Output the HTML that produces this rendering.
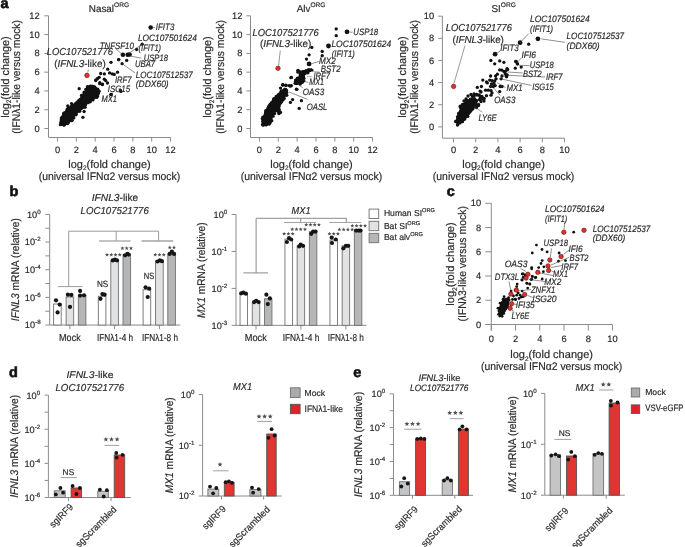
<!DOCTYPE html>
<html><head><meta charset="utf-8"><style>
html,body{margin:0;padding:0;background:#fff;}
svg{display:block;will-change:transform;}
svg text{font-family:"Liberation Sans",sans-serif;text-rendering:geometricPrecision;}
</style></head><body>
<svg width="685" height="547" viewBox="0 0 685 547">
<rect width="685" height="547" fill="#fff"/>
<text x="0.6" y="7.8" font-size="14.5" stroke="#111" stroke-width="0.6" font-weight="bold" fill="#111">a</text>
<polyline points="48.5,15.8 48.5,137.5 170.5,137.5" fill="none" stroke="#8c8c8c" stroke-width="1"/>
<line x1="44.3" y1="128.5" x2="48.5" y2="128.5" stroke="#8c8c8c" stroke-width="1"/>
<text x="39.6" y="131.6" font-size="9.3" stroke="#2a2a2a" stroke-width="0.18" text-anchor="end" fill="#2a2a2a">0</text>
<line x1="44.3" y1="109.72" x2="48.5" y2="109.72" stroke="#8c8c8c" stroke-width="1"/>
<text x="39.6" y="112.82" font-size="9.3" stroke="#2a2a2a" stroke-width="0.18" text-anchor="end" fill="#2a2a2a">2</text>
<line x1="44.3" y1="90.94" x2="48.5" y2="90.94" stroke="#8c8c8c" stroke-width="1"/>
<text x="39.6" y="94.04" font-size="9.3" stroke="#2a2a2a" stroke-width="0.18" text-anchor="end" fill="#2a2a2a">4</text>
<line x1="44.3" y1="72.16" x2="48.5" y2="72.16" stroke="#8c8c8c" stroke-width="1"/>
<text x="39.6" y="75.26" font-size="9.3" stroke="#2a2a2a" stroke-width="0.18" text-anchor="end" fill="#2a2a2a">6</text>
<line x1="44.3" y1="53.38" x2="48.5" y2="53.38" stroke="#8c8c8c" stroke-width="1"/>
<text x="39.6" y="56.48" font-size="9.3" stroke="#2a2a2a" stroke-width="0.18" text-anchor="end" fill="#2a2a2a">8</text>
<line x1="44.3" y1="34.6" x2="48.5" y2="34.6" stroke="#8c8c8c" stroke-width="1"/>
<text x="39.6" y="37.7" font-size="9.3" stroke="#2a2a2a" stroke-width="0.18" text-anchor="end" fill="#2a2a2a">10</text>
<line x1="44.3" y1="15.82" x2="48.5" y2="15.82" stroke="#8c8c8c" stroke-width="1"/>
<text x="39.6" y="18.92" font-size="9.3" stroke="#2a2a2a" stroke-width="0.18" text-anchor="end" fill="#2a2a2a">12</text>
<line x1="57.5" y1="137.5" x2="57.5" y2="141.6" stroke="#8c8c8c" stroke-width="1"/>
<text x="57.5" y="152.7" font-size="9.3" stroke="#2a2a2a" stroke-width="0.18" text-anchor="middle" fill="#2a2a2a">0</text>
<line x1="76.34" y1="137.5" x2="76.34" y2="141.6" stroke="#8c8c8c" stroke-width="1"/>
<text x="76.34" y="152.7" font-size="9.3" stroke="#2a2a2a" stroke-width="0.18" text-anchor="middle" fill="#2a2a2a">2</text>
<line x1="95.18" y1="137.5" x2="95.18" y2="141.6" stroke="#8c8c8c" stroke-width="1"/>
<text x="95.18" y="152.7" font-size="9.3" stroke="#2a2a2a" stroke-width="0.18" text-anchor="middle" fill="#2a2a2a">4</text>
<line x1="114.02" y1="137.5" x2="114.02" y2="141.6" stroke="#8c8c8c" stroke-width="1"/>
<text x="114.02" y="152.7" font-size="9.3" stroke="#2a2a2a" stroke-width="0.18" text-anchor="middle" fill="#2a2a2a">6</text>
<line x1="132.86" y1="137.5" x2="132.86" y2="141.6" stroke="#8c8c8c" stroke-width="1"/>
<text x="132.86" y="152.7" font-size="9.3" stroke="#2a2a2a" stroke-width="0.18" text-anchor="middle" fill="#2a2a2a">8</text>
<line x1="151.7" y1="137.5" x2="151.7" y2="141.6" stroke="#8c8c8c" stroke-width="1"/>
<text x="151.7" y="152.7" font-size="9.3" stroke="#2a2a2a" stroke-width="0.18" text-anchor="middle" fill="#2a2a2a">10</text>
<line x1="170.54" y1="137.5" x2="170.54" y2="141.6" stroke="#8c8c8c" stroke-width="1"/>
<text x="170.54" y="152.7" font-size="9.3" stroke="#2a2a2a" stroke-width="0.18" text-anchor="middle" fill="#2a2a2a">12</text>
<text transform="translate(8.8,77) rotate(-90)" font-size="11.12" stroke="#2a2a2a" stroke-width="0.18" text-anchor="middle" textLength="81.4" lengthAdjust="spacingAndGlyphs" fill="#2a2a2a">log<tspan font-size="6.6" dy="2.6">2</tspan><tspan dy="-2.6">(fold change)</tspan></text>
<text transform="translate(20.4,77) rotate(-90)" font-size="11.12" stroke="#2a2a2a" stroke-width="0.18" text-anchor="middle" textLength="113.7" lengthAdjust="spacingAndGlyphs" fill="#2a2a2a">(IFNλ1-like versus mock)</text>
<text x="109.5" y="167.5" font-size="11.12" stroke="#2a2a2a" stroke-width="0.18" text-anchor="middle" textLength="82.5" lengthAdjust="spacingAndGlyphs" fill="#2a2a2a">log<tspan font-size="6.6" dy="2.6">2</tspan><tspan dy="-2.6">(fold change)</tspan></text>
<text x="109.5" y="180.3" font-size="11.12" stroke="#2a2a2a" stroke-width="0.18" text-anchor="middle" textLength="141.5" lengthAdjust="spacingAndGlyphs" fill="#2a2a2a">(universal IFNα2 versus mock)</text>
<text x="88.8" y="11.8" font-size="9.9" stroke="#2a2a2a" stroke-width="0.18" fill="#2a2a2a">Nasal<tspan font-size="6.6" dy="-4.4">ORG</tspan></text>
<polygon points="86.5,86.4 89.7,85 95.2,85.3 98,88.7 100.2,93.3 98,96.9 92.5,101 87.9,102.9 85.2,107.4 80.6,111.1 76,114.7 73.3,119.3 68.7,123.9 64.1,126.2 60,125.7 59.1,123 60.9,116.6 66,109.3 73.3,103.8 77.9,99.7 82.4,95.1 85.6,90.1" fill="#111" stroke="#111" stroke-width="0" stroke-linejoin="round"/>
<circle cx="87.52" cy="86.81" r="1.81" fill="#111"/>
<circle cx="90.38" cy="86.15" r="1.69" fill="#111"/>
<circle cx="92.28" cy="86.2" r="1.71" fill="#111"/>
<circle cx="95.91" cy="89.46" r="1.59" fill="#111"/>
<circle cx="97.65" cy="89.3" r="1.73" fill="#111"/>
<circle cx="98.95" cy="91.23" r="1.83" fill="#111"/>
<circle cx="97.86" cy="96.1" r="1.54" fill="#111"/>
<circle cx="96.87" cy="97.41" r="1.51" fill="#111"/>
<circle cx="93.05" cy="99.96" r="1.5" fill="#111"/>
<circle cx="90.11" cy="101.83" r="1.78" fill="#111"/>
<circle cx="88.08" cy="102.69" r="1.66" fill="#111"/>
<circle cx="85.67" cy="104.47" r="1.58" fill="#111"/>
<circle cx="85.02" cy="107.3" r="1.78" fill="#111"/>
<circle cx="82.48" cy="107.49" r="1.57" fill="#111"/>
<circle cx="81.37" cy="107.81" r="1.76" fill="#111"/>
<circle cx="79.71" cy="111.3" r="1.62" fill="#111"/>
<circle cx="76.29" cy="114.14" r="1.49" fill="#111"/>
<circle cx="75.87" cy="114.82" r="1.65" fill="#111"/>
<circle cx="73.94" cy="117.93" r="1.51" fill="#111"/>
<circle cx="72.16" cy="120.16" r="1.58" fill="#111"/>
<circle cx="71.56" cy="120.39" r="1.82" fill="#111"/>
<circle cx="68.08" cy="123.06" r="1.57" fill="#111"/>
<circle cx="67.39" cy="123.37" r="1.77" fill="#111"/>
<circle cx="64.06" cy="125.22" r="1.64" fill="#111"/>
<circle cx="60.37" cy="124.64" r="1.53" fill="#111"/>
<circle cx="61.29" cy="119.66" r="1.63" fill="#111"/>
<circle cx="61.6" cy="118.1" r="1.83" fill="#111"/>
<circle cx="63.72" cy="113.84" r="1.8" fill="#111"/>
<circle cx="64.26" cy="112.98" r="1.79" fill="#111"/>
<circle cx="67.35" cy="109.45" r="1.83" fill="#111"/>
<circle cx="68.2" cy="108.4" r="1.76" fill="#111"/>
<circle cx="70.88" cy="106.55" r="1.51" fill="#111"/>
<circle cx="72.16" cy="105.39" r="1.57" fill="#111"/>
<circle cx="76.09" cy="103.15" r="1.65" fill="#111"/>
<circle cx="78.33" cy="100.96" r="1.69" fill="#111"/>
<circle cx="79.9" cy="99.62" r="1.54" fill="#111"/>
<circle cx="82.07" cy="95.88" r="1.57" fill="#111"/>
<circle cx="82.51" cy="95.35" r="1.82" fill="#111"/>
<circle cx="84.22" cy="92.4" r="1.8" fill="#111"/>
<circle cx="85.66" cy="89.2" r="1.52" fill="#111"/>
<circle cx="79.2" cy="88.7" r="1.65" fill="#111"/>
<circle cx="67.8" cy="106" r="1.65" fill="#111"/>
<circle cx="71.6" cy="103.6" r="1.65" fill="#111"/>
<circle cx="84.1" cy="111.5" r="1.65" fill="#111"/>
<circle cx="82.9" cy="117.3" r="1.65" fill="#111"/>
<circle cx="81.5" cy="95.5" r="1.65" fill="#111"/>
<circle cx="102.5" cy="84.1" r="1.65" fill="#111"/>
<circle cx="95.7" cy="80.5" r="1.65" fill="#111"/>
<circle cx="99.8" cy="82.7" r="1.65" fill="#111"/>
<circle cx="111.3" cy="94.3" r="1.65" fill="#111"/>
<circle cx="120.9" cy="91.4" r="1.65" fill="#111"/>
<circle cx="96" cy="79.8" r="1.65" fill="#111"/>
<circle cx="97.6" cy="78.5" r="1.65" fill="#111"/>
<circle cx="99.2" cy="77.3" r="1.65" fill="#111"/>
<circle cx="100.7" cy="73.5" r="1.65" fill="#111"/>
<circle cx="104.4" cy="73.9" r="1.65" fill="#111"/>
<circle cx="109.6" cy="72.9" r="1.65" fill="#111"/>
<circle cx="112.3" cy="73.9" r="1.65" fill="#111"/>
<circle cx="114.2" cy="74.4" r="1.65" fill="#111"/>
<circle cx="117.5" cy="72.2" r="1.65" fill="#111"/>
<circle cx="107.7" cy="69.2" r="1.65" fill="#111"/>
<circle cx="111" cy="62.3" r="1.65" fill="#111"/>
<circle cx="104.3" cy="79.2" r="1.65" fill="#111"/>
<circle cx="105.6" cy="80.5" r="1.65" fill="#111"/>
<circle cx="99.8" cy="83.7" r="1.65" fill="#111"/>
<circle cx="102.4" cy="84.6" r="1.65" fill="#111"/>
<circle cx="107.5" cy="83" r="1.65" fill="#111"/>
<circle cx="118.8" cy="59.7" r="1.65" fill="#111"/>
<circle cx="122.1" cy="63.7" r="1.65" fill="#111"/>
<circle cx="126.7" cy="60.4" r="1.65" fill="#111"/>
<circle cx="118.6" cy="59.6" r="1.65" fill="#111"/>
<circle cx="142.2" cy="44.2" r="1.65" fill="#111"/>
<circle cx="136.6" cy="49.5" r="1.65" fill="#111"/>
<circle cx="110.9" cy="94.5" r="1.65" fill="#111"/>
<circle cx="120.5" cy="90.5" r="1.65" fill="#111"/>
<circle cx="150.7" cy="27.5" r="2.3" fill="#111"/>
<circle cx="122.9" cy="54.8" r="2.3" fill="#111"/>
<circle cx="127.7" cy="54.8" r="2.3" fill="#111"/>
<circle cx="129.6" cy="54.5" r="2.3" fill="#111"/>
<circle cx="87" cy="75.4" r="2.3" fill="#e0302c" stroke="#5a1210" stroke-width="0.5"/>
<text x="46.8" y="54.7" font-size="10.15" stroke="#2a2a2a" stroke-width="0.18" font-style="italic" textLength="66.1" lengthAdjust="spacingAndGlyphs" fill="#2a2a2a">LOC107521776</text>
<text x="54.2" y="66.9" font-size="10.15" stroke="#2a2a2a" stroke-width="0.18" textLength="51.5" lengthAdjust="spacingAndGlyphs" fill="#2a2a2a">(<tspan font-style="italic">IFNL3</tspan>-like)</text>
<line x1="88.6" y1="69.6" x2="87.6" y2="72.6" stroke="#555" stroke-width="0.6"/>
<text x="155.8" y="29.8" font-size="9.29" stroke="#2a2a2a" stroke-width="0.18" font-style="italic" textLength="18.5" lengthAdjust="spacingAndGlyphs" fill="#2a2a2a">IFIT3</text>
<line x1="152.5" y1="27.6" x2="155.2" y2="27.6" stroke="#444" stroke-width="0.6"/>
<text x="137.9" y="40.7" font-size="9.29" stroke="#2a2a2a" stroke-width="0.18" font-style="italic" textLength="58.9" lengthAdjust="spacingAndGlyphs" fill="#2a2a2a">LOC107501624</text>
<text x="138.6" y="51" font-size="9.29" stroke="#2a2a2a" stroke-width="0.18" font-style="italic" textLength="22.5" lengthAdjust="spacingAndGlyphs" fill="#2a2a2a">(IFIT1)</text>
<text x="99.8" y="48.8" font-size="9.29" stroke="#2a2a2a" stroke-width="0.18" font-style="italic" textLength="34" lengthAdjust="spacingAndGlyphs" fill="#2a2a2a">TNFSF10</text>
<text x="143.8" y="60.6" font-size="9.29" stroke="#2a2a2a" stroke-width="0.18" font-style="italic" textLength="24.1" lengthAdjust="spacingAndGlyphs" fill="#2a2a2a">USP18</text>
<text x="135" y="67.2" font-size="9.29" stroke="#2a2a2a" stroke-width="0.18" font-style="italic" textLength="20" lengthAdjust="spacingAndGlyphs" fill="#2a2a2a">UBA7</text>
<text x="135.8" y="77.6" font-size="9.29" stroke="#2a2a2a" stroke-width="0.18" font-style="italic" textLength="57" lengthAdjust="spacingAndGlyphs" fill="#2a2a2a">LOC107512537</text>
<text x="135.8" y="87.3" font-size="9.29" stroke="#2a2a2a" stroke-width="0.18" font-style="italic" textLength="32.9" lengthAdjust="spacingAndGlyphs" fill="#2a2a2a">(DDX60)</text>
<text x="114.9" y="83.2" font-size="9.29" stroke="#2a2a2a" stroke-width="0.18" font-style="italic" textLength="16.5" lengthAdjust="spacingAndGlyphs" fill="#2a2a2a">IRF7</text>
<text x="107.7" y="91.6" font-size="9.29" stroke="#2a2a2a" stroke-width="0.18" font-style="italic" textLength="22.4" lengthAdjust="spacingAndGlyphs" fill="#2a2a2a">ISG15</text>
<text x="101.4" y="102.2" font-size="9.29" stroke="#2a2a2a" stroke-width="0.18" font-style="italic" textLength="15.5" lengthAdjust="spacingAndGlyphs" fill="#2a2a2a">MX1</text>
<line x1="115.6" y1="48.5" x2="122.1" y2="54.2" stroke="#444" stroke-width="0.6"/>
<line x1="142.2" y1="44.2" x2="128.5" y2="53.5" stroke="#444" stroke-width="0.6"/>
<line x1="130.1" y1="56" x2="141.4" y2="58.2" stroke="#444" stroke-width="0.6"/>
<line x1="122.1" y1="63.7" x2="135" y2="72.8" stroke="#444" stroke-width="0.6"/>
<polyline points="250.5,15.8 250.5,137.5 372.6,137.5" fill="none" stroke="#8c8c8c" stroke-width="1"/>
<line x1="246.3" y1="128.5" x2="250.5" y2="128.5" stroke="#8c8c8c" stroke-width="1"/>
<text x="242.4" y="131.6" font-size="9.3" stroke="#2a2a2a" stroke-width="0.18" text-anchor="end" fill="#2a2a2a">0</text>
<line x1="246.3" y1="109.72" x2="250.5" y2="109.72" stroke="#8c8c8c" stroke-width="1"/>
<text x="242.4" y="112.82" font-size="9.3" stroke="#2a2a2a" stroke-width="0.18" text-anchor="end" fill="#2a2a2a">2</text>
<line x1="246.3" y1="90.94" x2="250.5" y2="90.94" stroke="#8c8c8c" stroke-width="1"/>
<text x="242.4" y="94.04" font-size="9.3" stroke="#2a2a2a" stroke-width="0.18" text-anchor="end" fill="#2a2a2a">4</text>
<line x1="246.3" y1="72.16" x2="250.5" y2="72.16" stroke="#8c8c8c" stroke-width="1"/>
<text x="242.4" y="75.26" font-size="9.3" stroke="#2a2a2a" stroke-width="0.18" text-anchor="end" fill="#2a2a2a">6</text>
<line x1="246.3" y1="53.38" x2="250.5" y2="53.38" stroke="#8c8c8c" stroke-width="1"/>
<text x="242.4" y="56.48" font-size="9.3" stroke="#2a2a2a" stroke-width="0.18" text-anchor="end" fill="#2a2a2a">8</text>
<line x1="246.3" y1="34.6" x2="250.5" y2="34.6" stroke="#8c8c8c" stroke-width="1"/>
<text x="242.4" y="37.7" font-size="9.3" stroke="#2a2a2a" stroke-width="0.18" text-anchor="end" fill="#2a2a2a">10</text>
<line x1="246.3" y1="15.82" x2="250.5" y2="15.82" stroke="#8c8c8c" stroke-width="1"/>
<text x="242.4" y="18.92" font-size="9.3" stroke="#2a2a2a" stroke-width="0.18" text-anchor="end" fill="#2a2a2a">12</text>
<line x1="259.4" y1="137.5" x2="259.4" y2="141.6" stroke="#8c8c8c" stroke-width="1"/>
<text x="259.4" y="152.7" font-size="9.3" stroke="#2a2a2a" stroke-width="0.18" text-anchor="middle" fill="#2a2a2a">0</text>
<line x1="278.26" y1="137.5" x2="278.26" y2="141.6" stroke="#8c8c8c" stroke-width="1"/>
<text x="278.26" y="152.7" font-size="9.3" stroke="#2a2a2a" stroke-width="0.18" text-anchor="middle" fill="#2a2a2a">2</text>
<line x1="297.12" y1="137.5" x2="297.12" y2="141.6" stroke="#8c8c8c" stroke-width="1"/>
<text x="297.12" y="152.7" font-size="9.3" stroke="#2a2a2a" stroke-width="0.18" text-anchor="middle" fill="#2a2a2a">4</text>
<line x1="315.98" y1="137.5" x2="315.98" y2="141.6" stroke="#8c8c8c" stroke-width="1"/>
<text x="315.98" y="152.7" font-size="9.3" stroke="#2a2a2a" stroke-width="0.18" text-anchor="middle" fill="#2a2a2a">6</text>
<line x1="334.84" y1="137.5" x2="334.84" y2="141.6" stroke="#8c8c8c" stroke-width="1"/>
<text x="334.84" y="152.7" font-size="9.3" stroke="#2a2a2a" stroke-width="0.18" text-anchor="middle" fill="#2a2a2a">8</text>
<line x1="353.7" y1="137.5" x2="353.7" y2="141.6" stroke="#8c8c8c" stroke-width="1"/>
<text x="353.7" y="152.7" font-size="9.3" stroke="#2a2a2a" stroke-width="0.18" text-anchor="middle" fill="#2a2a2a">10</text>
<line x1="372.56" y1="137.5" x2="372.56" y2="141.6" stroke="#8c8c8c" stroke-width="1"/>
<text x="372.56" y="152.7" font-size="9.3" stroke="#2a2a2a" stroke-width="0.18" text-anchor="middle" fill="#2a2a2a">12</text>
<text transform="translate(211.2,77) rotate(-90)" font-size="11.12" stroke="#2a2a2a" stroke-width="0.18" text-anchor="middle" textLength="81.4" lengthAdjust="spacingAndGlyphs" fill="#2a2a2a">log<tspan font-size="6.6" dy="2.6">2</tspan><tspan dy="-2.6">(fold change)</tspan></text>
<text transform="translate(223.8,77) rotate(-90)" font-size="11.12" stroke="#2a2a2a" stroke-width="0.18" text-anchor="middle" textLength="113.7" lengthAdjust="spacingAndGlyphs" fill="#2a2a2a">(IFNλ1-like versus mock)</text>
<text x="311.5" y="167.5" font-size="11.12" stroke="#2a2a2a" stroke-width="0.18" text-anchor="middle" textLength="82.5" lengthAdjust="spacingAndGlyphs" fill="#2a2a2a">log<tspan font-size="6.6" dy="2.6">2</tspan><tspan dy="-2.6">(fold change)</tspan></text>
<text x="311.5" y="180.3" font-size="11.12" stroke="#2a2a2a" stroke-width="0.18" text-anchor="middle" textLength="141.5" lengthAdjust="spacingAndGlyphs" fill="#2a2a2a">(universal IFNα2 versus mock)</text>
<text x="296.7" y="11.8" font-size="9.9" stroke="#2a2a2a" stroke-width="0.18" fill="#2a2a2a">Alv<tspan font-size="6.6" dy="-4.4">ORG</tspan></text>
<polygon points="284.3,87.6 288.2,89.8 287.6,94.2 284.3,98.5 282.7,102.9 280,106.2 279.4,113.9 275.6,111.7 273.4,116.1 271.2,122.7 266.8,126.5 262.4,126 261.3,120.5 264.6,111.7 268.4,104 273.4,98.5 278.3,94.2 281.6,90.3" fill="#111" stroke="#111" stroke-width="0" stroke-linejoin="round"/>
<circle cx="285.69" cy="89.44" r="1.72" fill="#111"/>
<circle cx="286.72" cy="92.23" r="1.62" fill="#111"/>
<circle cx="286.73" cy="95.22" r="1.73" fill="#111"/>
<circle cx="284.14" cy="98.42" r="1.72" fill="#111"/>
<circle cx="283.03" cy="100.04" r="1.54" fill="#111"/>
<circle cx="278.09" cy="106.14" r="1.77" fill="#111"/>
<circle cx="279.13" cy="106.39" r="1.61" fill="#111"/>
<circle cx="279.32" cy="109.46" r="1.49" fill="#111"/>
<circle cx="279.36" cy="111.19" r="1.67" fill="#111"/>
<circle cx="278.96" cy="113.49" r="1.82" fill="#111"/>
<circle cx="275.55" cy="110.54" r="1.53" fill="#111"/>
<circle cx="274.35" cy="113.61" r="1.54" fill="#111"/>
<circle cx="273.18" cy="116.28" r="1.55" fill="#111"/>
<circle cx="271.79" cy="120.69" r="1.63" fill="#111"/>
<circle cx="270.3" cy="122.6" r="1.62" fill="#111"/>
<circle cx="269.2" cy="123.93" r="1.83" fill="#111"/>
<circle cx="263.01" cy="125.26" r="1.61" fill="#111"/>
<circle cx="262.7" cy="124.31" r="1.72" fill="#111"/>
<circle cx="262.95" cy="121.56" r="1.61" fill="#111"/>
<circle cx="262.31" cy="118.6" r="1.66" fill="#111"/>
<circle cx="262.87" cy="117.12" r="1.64" fill="#111"/>
<circle cx="265.66" cy="112.2" r="1.64" fill="#111"/>
<circle cx="265.72" cy="110.45" r="1.52" fill="#111"/>
<circle cx="268.47" cy="107.45" r="1.73" fill="#111"/>
<circle cx="268.9" cy="106.46" r="1.61" fill="#111"/>
<circle cx="271.37" cy="103.91" r="1.65" fill="#111"/>
<circle cx="271.71" cy="102.9" r="1.65" fill="#111"/>
<circle cx="273.71" cy="99.81" r="1.82" fill="#111"/>
<circle cx="273.89" cy="98.49" r="1.61" fill="#111"/>
<circle cx="276.27" cy="96.67" r="1.81" fill="#111"/>
<circle cx="277.95" cy="95.89" r="1.76" fill="#111"/>
<circle cx="279.97" cy="93.29" r="1.49" fill="#111"/>
<circle cx="281.36" cy="91.13" r="1.83" fill="#111"/>
<polygon points="296.4,69.6 301,70.6 306.5,69.6 311.5,68.3 312.4,69.6 310.2,71.9 305.6,73.3 304.2,77.4 305.1,81.1 303.3,83.8 299.2,84.7 294.6,84.3 293.7,81.5 297.8,77.4 299.6,73.8 296.4,71.5" fill="#111" stroke="#111" stroke-width="0" stroke-linejoin="round"/>
<circle cx="298.14" cy="70.52" r="1.73" fill="#111"/>
<circle cx="302.99" cy="72.05" r="1.57" fill="#111"/>
<circle cx="303.58" cy="71.76" r="1.74" fill="#111"/>
<circle cx="306.12" cy="70.46" r="1.56" fill="#111"/>
<circle cx="308.71" cy="69.7" r="1.78" fill="#111"/>
<circle cx="310.16" cy="70.35" r="1.58" fill="#111"/>
<circle cx="311.67" cy="70.17" r="1.77" fill="#111"/>
<circle cx="307.84" cy="72.72" r="1.75" fill="#111"/>
<circle cx="305.19" cy="73.62" r="1.58" fill="#111"/>
<circle cx="303.32" cy="76.12" r="1.75" fill="#111"/>
<circle cx="303.99" cy="78.29" r="1.61" fill="#111"/>
<circle cx="303.86" cy="80.69" r="1.53" fill="#111"/>
<circle cx="300.1" cy="83.94" r="1.83" fill="#111"/>
<circle cx="296.68" cy="83.5" r="1.75" fill="#111"/>
<circle cx="295.08" cy="83.28" r="1.64" fill="#111"/>
<circle cx="295.61" cy="80.09" r="1.67" fill="#111"/>
<circle cx="297.43" cy="78.28" r="1.7" fill="#111"/>
<circle cx="300.52" cy="75.74" r="1.66" fill="#111"/>
<circle cx="300.36" cy="74.24" r="1.56" fill="#111"/>
<circle cx="298.08" cy="72.14" r="1.72" fill="#111"/>
<circle cx="280.5" cy="88.1" r="1.65" fill="#111"/>
<circle cx="282.7" cy="85.1" r="1.65" fill="#111"/>
<circle cx="286" cy="85.4" r="1.65" fill="#111"/>
<circle cx="290.4" cy="86.2" r="1.65" fill="#111"/>
<circle cx="290.9" cy="77.7" r="1.65" fill="#111"/>
<circle cx="296.4" cy="89.2" r="1.65" fill="#111"/>
<circle cx="292.6" cy="99.6" r="1.65" fill="#111"/>
<circle cx="290.4" cy="102.4" r="1.65" fill="#111"/>
<circle cx="301.4" cy="100.7" r="1.65" fill="#111"/>
<circle cx="299.2" cy="108.4" r="1.65" fill="#111"/>
<circle cx="278.3" cy="94.7" r="1.65" fill="#111"/>
<circle cx="309.1" cy="54.8" r="1.65" fill="#111"/>
<circle cx="306.5" cy="59.1" r="1.65" fill="#111"/>
<circle cx="322.2" cy="51.4" r="1.65" fill="#111"/>
<circle cx="322.2" cy="55.7" r="1.65" fill="#111"/>
<circle cx="291.4" cy="77.4" r="1.65" fill="#111"/>
<circle cx="296.9" cy="89.3" r="1.65" fill="#111"/>
<circle cx="282.7" cy="84.7" r="1.65" fill="#111"/>
<circle cx="285.9" cy="85.2" r="1.65" fill="#111"/>
<circle cx="289.1" cy="85.6" r="1.65" fill="#111"/>
<circle cx="291.4" cy="85.6" r="1.65" fill="#111"/>
<circle cx="311.8" cy="47.4" r="1.65" fill="#111"/>
<circle cx="336.2" cy="28.9" r="1.65" fill="#111"/>
<circle cx="336.2" cy="35.7" r="1.65" fill="#111"/>
<circle cx="280.5" cy="112.4" r="1.65" fill="#111"/>
<circle cx="283" cy="84.8" r="1.65" fill="#111"/>
<circle cx="276.5" cy="109.5" r="1.65" fill="#111"/>
<circle cx="274.5" cy="113.5" r="1.65" fill="#111"/>
<circle cx="309.1" cy="63.9" r="2.4" fill="#111"/>
<circle cx="328.5" cy="46" r="2.4" fill="#111"/>
<circle cx="347" cy="31.8" r="2.4" fill="#111"/>
<circle cx="278" cy="68.3" r="2.3" fill="#e0302c" stroke="#5a1210" stroke-width="0.5"/>
<text x="252.5" y="35.5" font-size="10.15" stroke="#2a2a2a" stroke-width="0.18" font-style="italic" textLength="66.3" lengthAdjust="spacingAndGlyphs" fill="#2a2a2a">LOC107521776</text>
<text x="259.9" y="47.4" font-size="10.15" stroke="#2a2a2a" stroke-width="0.18" textLength="51.4" lengthAdjust="spacingAndGlyphs" fill="#2a2a2a">(<tspan font-style="italic">IFNL3</tspan>-like)</text>
<line x1="280.3" y1="50.5" x2="278.6" y2="65.5" stroke="#555" stroke-width="0.6"/>
<text x="353.3" y="34.7" font-size="9.29" stroke="#2a2a2a" stroke-width="0.18" font-style="italic" textLength="24.8" lengthAdjust="spacingAndGlyphs" fill="#2a2a2a">USP18</text>
<line x1="349.5" y1="32.2" x2="352.5" y2="32.2" stroke="#444" stroke-width="0.6"/>
<text x="331.4" y="47.1" font-size="9.29" stroke="#2a2a2a" stroke-width="0.18" font-style="italic" textLength="59.8" lengthAdjust="spacingAndGlyphs" fill="#2a2a2a">LOC107501624</text>
<text x="331.8" y="57.3" font-size="9.29" stroke="#2a2a2a" stroke-width="0.18" font-style="italic" textLength="22.9" lengthAdjust="spacingAndGlyphs" fill="#2a2a2a">(IFIT1)</text>
<text x="319" y="63.9" font-size="9.29" stroke="#2a2a2a" stroke-width="0.18" font-style="italic" textLength="16.8" lengthAdjust="spacingAndGlyphs" fill="#2a2a2a">MX2</text>
<text x="320.8" y="71.6" font-size="9.29" stroke="#2a2a2a" stroke-width="0.18" font-style="italic" textLength="19.8" lengthAdjust="spacingAndGlyphs" fill="#2a2a2a">BST2</text>
<text x="313.4" y="79.2" font-size="9.29" stroke="#2a2a2a" stroke-width="0.18" font-style="italic" textLength="16.5" lengthAdjust="spacingAndGlyphs" fill="#2a2a2a">IRF7</text>
<text x="309.3" y="85.2" font-size="9.29" stroke="#2a2a2a" stroke-width="0.18" font-style="italic" textLength="14.8" lengthAdjust="spacingAndGlyphs" fill="#2a2a2a">MX1</text>
<text x="302.7" y="94.8" font-size="9.29" stroke="#2a2a2a" stroke-width="0.18" font-style="italic" textLength="21.4" lengthAdjust="spacingAndGlyphs" fill="#2a2a2a">OAS3</text>
<text x="306.8" y="109.9" font-size="9.29" stroke="#2a2a2a" stroke-width="0.18" font-style="italic" textLength="20.6" lengthAdjust="spacingAndGlyphs" fill="#2a2a2a">OASL</text>
<line x1="311.5" y1="63.7" x2="319.3" y2="61.4" stroke="#444" stroke-width="0.6"/>
<line x1="311.1" y1="71.5" x2="319.3" y2="71.9" stroke="#999" stroke-width="0.8"/>
<line x1="307" y1="76.7" x2="312.4" y2="76.7" stroke="#999" stroke-width="0.8"/>
<line x1="304.7" y1="81.5" x2="308.3" y2="82.4" stroke="#444" stroke-width="0.6"/>
<line x1="299.2" y1="85.2" x2="302.8" y2="87.9" stroke="#444" stroke-width="0.6"/>
<line x1="289.1" y1="92" x2="307.4" y2="99.3" stroke="#444" stroke-width="0.6"/>
<polyline points="442.4,16.2 442.4,138.2 564.6,138.2" fill="none" stroke="#8c8c8c" stroke-width="1"/>
<line x1="438.2" y1="126.9" x2="442.4" y2="126.9" stroke="#8c8c8c" stroke-width="1"/>
<text x="434.2" y="130" font-size="9.3" stroke="#2a2a2a" stroke-width="0.18" text-anchor="end" fill="#2a2a2a">0</text>
<line x1="438.2" y1="104.76" x2="442.4" y2="104.76" stroke="#8c8c8c" stroke-width="1"/>
<text x="434.2" y="107.86" font-size="9.3" stroke="#2a2a2a" stroke-width="0.18" text-anchor="end" fill="#2a2a2a">2</text>
<line x1="438.2" y1="82.62" x2="442.4" y2="82.62" stroke="#8c8c8c" stroke-width="1"/>
<text x="434.2" y="85.72" font-size="9.3" stroke="#2a2a2a" stroke-width="0.18" text-anchor="end" fill="#2a2a2a">4</text>
<line x1="438.2" y1="60.48" x2="442.4" y2="60.48" stroke="#8c8c8c" stroke-width="1"/>
<text x="434.2" y="63.58" font-size="9.3" stroke="#2a2a2a" stroke-width="0.18" text-anchor="end" fill="#2a2a2a">6</text>
<line x1="438.2" y1="38.34" x2="442.4" y2="38.34" stroke="#8c8c8c" stroke-width="1"/>
<text x="434.2" y="41.44" font-size="9.3" stroke="#2a2a2a" stroke-width="0.18" text-anchor="end" fill="#2a2a2a">8</text>
<line x1="438.2" y1="16.2" x2="442.4" y2="16.2" stroke="#8c8c8c" stroke-width="1"/>
<text x="434.2" y="19.3" font-size="9.3" stroke="#2a2a2a" stroke-width="0.18" text-anchor="end" fill="#2a2a2a">10</text>
<line x1="453.5" y1="138.2" x2="453.5" y2="142.3" stroke="#8c8c8c" stroke-width="1"/>
<text x="453.5" y="152.5" font-size="9.3" stroke="#2a2a2a" stroke-width="0.18" text-anchor="middle" fill="#2a2a2a">0</text>
<line x1="475.7" y1="138.2" x2="475.7" y2="142.3" stroke="#8c8c8c" stroke-width="1"/>
<text x="475.7" y="152.5" font-size="9.3" stroke="#2a2a2a" stroke-width="0.18" text-anchor="middle" fill="#2a2a2a">2</text>
<line x1="497.9" y1="138.2" x2="497.9" y2="142.3" stroke="#8c8c8c" stroke-width="1"/>
<text x="497.9" y="152.5" font-size="9.3" stroke="#2a2a2a" stroke-width="0.18" text-anchor="middle" fill="#2a2a2a">4</text>
<line x1="520.1" y1="138.2" x2="520.1" y2="142.3" stroke="#8c8c8c" stroke-width="1"/>
<text x="520.1" y="152.5" font-size="9.3" stroke="#2a2a2a" stroke-width="0.18" text-anchor="middle" fill="#2a2a2a">6</text>
<line x1="542.3" y1="138.2" x2="542.3" y2="142.3" stroke="#8c8c8c" stroke-width="1"/>
<text x="542.3" y="152.5" font-size="9.3" stroke="#2a2a2a" stroke-width="0.18" text-anchor="middle" fill="#2a2a2a">8</text>
<line x1="564.5" y1="138.2" x2="564.5" y2="142.3" stroke="#8c8c8c" stroke-width="1"/>
<text x="564.5" y="152.5" font-size="9.3" stroke="#2a2a2a" stroke-width="0.18" text-anchor="middle" fill="#2a2a2a">10</text>
<text transform="translate(406,77) rotate(-90)" font-size="11.12" stroke="#2a2a2a" stroke-width="0.18" text-anchor="middle" textLength="81.4" lengthAdjust="spacingAndGlyphs" fill="#2a2a2a">log<tspan font-size="6.6" dy="2.6">2</tspan><tspan dy="-2.6">(fold change)</tspan></text>
<text transform="translate(418.3,77) rotate(-90)" font-size="11.12" stroke="#2a2a2a" stroke-width="0.18" text-anchor="middle" textLength="113.7" lengthAdjust="spacingAndGlyphs" fill="#2a2a2a">(IFNλ1-like versus mock)</text>
<text x="503.6" y="167.5" font-size="11.12" stroke="#2a2a2a" stroke-width="0.18" text-anchor="middle" textLength="82.5" lengthAdjust="spacingAndGlyphs" fill="#2a2a2a">log<tspan font-size="6.6" dy="2.6">2</tspan><tspan dy="-2.6">(fold change)</tspan></text>
<text x="503.6" y="180.3" font-size="11.12" stroke="#2a2a2a" stroke-width="0.18" text-anchor="middle" textLength="141.5" lengthAdjust="spacingAndGlyphs" fill="#2a2a2a">(universal IFNα2 versus mock)</text>
<text x="491.5" y="11.8" font-size="9.9" stroke="#2a2a2a" stroke-width="0.18" fill="#2a2a2a">SI<tspan font-size="6.6" dy="-4.4">ORG</tspan></text>
<circle cx="468" cy="96" r="1.65" fill="#111"/>
<circle cx="471" cy="94.5" r="1.65" fill="#111"/>
<circle cx="474" cy="94" r="1.65" fill="#111"/>
<circle cx="477" cy="95" r="1.65" fill="#111"/>
<circle cx="480" cy="96.5" r="1.65" fill="#111"/>
<circle cx="482" cy="98.5" r="1.65" fill="#111"/>
<circle cx="479.5" cy="99.5" r="1.65" fill="#111"/>
<circle cx="481" cy="101.5" r="1.65" fill="#111"/>
<circle cx="478.5" cy="104.5" r="1.65" fill="#111"/>
<circle cx="476.5" cy="107.5" r="1.65" fill="#111"/>
<circle cx="466" cy="99" r="1.65" fill="#111"/>
<circle cx="464" cy="101" r="1.65" fill="#111"/>
<circle cx="462.5" cy="104.5" r="1.65" fill="#111"/>
<circle cx="472.5" cy="96.5" r="1.65" fill="#111"/>
<circle cx="460.5" cy="107.5" r="1.65" fill="#111"/>
<polygon points="470.5,98.5 475.5,97.5 478,101 476.5,105 473.5,110 470,114 466.5,118.5 462,122.8 458,124.5 455.3,122.5 456.5,117 459,110.5 463,103.5 467,100" fill="#111" stroke="#111" stroke-width="0" stroke-linejoin="round"/>
<circle cx="470.49" cy="99.22" r="1.72" fill="#111"/>
<circle cx="474.37" cy="98.96" r="1.58" fill="#111"/>
<circle cx="476.67" cy="100.7" r="1.59" fill="#111"/>
<circle cx="475.74" cy="104.52" r="1.76" fill="#111"/>
<circle cx="474.7" cy="106.14" r="1.8" fill="#111"/>
<circle cx="472.76" cy="108.82" r="1.77" fill="#111"/>
<circle cx="470.43" cy="110.97" r="1.68" fill="#111"/>
<circle cx="469.01" cy="112.18" r="1.72" fill="#111"/>
<circle cx="468.76" cy="113.06" r="1.52" fill="#111"/>
<circle cx="467.84" cy="116.47" r="1.63" fill="#111"/>
<circle cx="464.57" cy="119.28" r="1.7" fill="#111"/>
<circle cx="462.57" cy="121.72" r="1.53" fill="#111"/>
<circle cx="460.09" cy="122.94" r="1.55" fill="#111"/>
<circle cx="457.99" cy="123.92" r="1.67" fill="#111"/>
<circle cx="456.35" cy="120.99" r="1.56" fill="#111"/>
<circle cx="457.4" cy="116.83" r="1.52" fill="#111"/>
<circle cx="459.46" cy="113.49" r="1.59" fill="#111"/>
<circle cx="458.48" cy="113.4" r="1.53" fill="#111"/>
<circle cx="461.78" cy="109.61" r="1.66" fill="#111"/>
<circle cx="462.2" cy="107.26" r="1.65" fill="#111"/>
<circle cx="463.14" cy="105.81" r="1.7" fill="#111"/>
<circle cx="463.75" cy="104.51" r="1.57" fill="#111"/>
<circle cx="466.72" cy="100.56" r="1.51" fill="#111"/>
<circle cx="467.43" cy="100.6" r="1.69" fill="#111"/>
<circle cx="490.9" cy="60.5" r="1.65" fill="#111"/>
<circle cx="494.7" cy="63.8" r="1.65" fill="#111"/>
<circle cx="499.7" cy="60.9" r="1.65" fill="#111"/>
<circle cx="503.9" cy="62.3" r="1.65" fill="#111"/>
<circle cx="515.7" cy="61.4" r="1.65" fill="#111"/>
<circle cx="517.6" cy="64.1" r="1.65" fill="#111"/>
<circle cx="521.2" cy="67.1" r="1.65" fill="#111"/>
<circle cx="515.3" cy="68.2" r="1.65" fill="#111"/>
<circle cx="507" cy="68.7" r="1.65" fill="#111"/>
<circle cx="499.7" cy="69.9" r="1.65" fill="#111"/>
<circle cx="503.9" cy="71.4" r="1.65" fill="#111"/>
<circle cx="497.4" cy="74.2" r="1.65" fill="#111"/>
<circle cx="505.2" cy="73.7" r="1.65" fill="#111"/>
<circle cx="506.1" cy="76" r="1.65" fill="#111"/>
<circle cx="502" cy="76" r="1.65" fill="#111"/>
<circle cx="501.1" cy="78.8" r="1.65" fill="#111"/>
<circle cx="495.6" cy="76" r="1.65" fill="#111"/>
<circle cx="496.1" cy="78.8" r="1.65" fill="#111"/>
<circle cx="490.6" cy="76" r="1.65" fill="#111"/>
<circle cx="494.7" cy="81" r="1.65" fill="#111"/>
<circle cx="492" cy="80.6" r="1.65" fill="#111"/>
<circle cx="489.7" cy="80.1" r="1.65" fill="#111"/>
<circle cx="486.5" cy="82" r="1.65" fill="#111"/>
<circle cx="482.8" cy="80.1" r="1.65" fill="#111"/>
<circle cx="487.4" cy="82.9" r="1.65" fill="#111"/>
<circle cx="491.5" cy="83.8" r="1.65" fill="#111"/>
<circle cx="493.8" cy="83.3" r="1.65" fill="#111"/>
<circle cx="490.6" cy="86.5" r="1.65" fill="#111"/>
<circle cx="493.3" cy="86.5" r="1.65" fill="#111"/>
<circle cx="495.2" cy="85.6" r="1.65" fill="#111"/>
<circle cx="500.2" cy="86.5" r="1.65" fill="#111"/>
<circle cx="502" cy="86.5" r="1.65" fill="#111"/>
<circle cx="499.7" cy="91.6" r="1.65" fill="#111"/>
<circle cx="477.3" cy="87.4" r="1.65" fill="#111"/>
<circle cx="481.4" cy="86.5" r="1.65" fill="#111"/>
<circle cx="485.6" cy="90.2" r="1.65" fill="#111"/>
<circle cx="488.3" cy="90.2" r="1.65" fill="#111"/>
<circle cx="491" cy="90.6" r="1.65" fill="#111"/>
<circle cx="492" cy="92.9" r="1.65" fill="#111"/>
<circle cx="491" cy="95.2" r="1.65" fill="#111"/>
<circle cx="486.5" cy="95.7" r="1.65" fill="#111"/>
<circle cx="484.2" cy="98.4" r="1.65" fill="#111"/>
<circle cx="480.1" cy="91.1" r="1.65" fill="#111"/>
<circle cx="481" cy="92" r="1.65" fill="#111"/>
<circle cx="479.1" cy="94.8" r="1.65" fill="#111"/>
<circle cx="476.4" cy="94.3" r="1.65" fill="#111"/>
<circle cx="474.1" cy="96.1" r="1.65" fill="#111"/>
<circle cx="528.7" cy="44.2" r="1.65" fill="#111"/>
<circle cx="516.2" cy="61.5" r="1.65" fill="#111"/>
<circle cx="517.2" cy="63.4" r="1.65" fill="#111"/>
<circle cx="507.6" cy="69.5" r="1.65" fill="#111"/>
<circle cx="505.7" cy="71.1" r="1.65" fill="#111"/>
<circle cx="501.8" cy="70.1" r="1.65" fill="#111"/>
<circle cx="507.2" cy="74.9" r="1.65" fill="#111"/>
<circle cx="506.6" cy="76.8" r="1.65" fill="#111"/>
<circle cx="460.2" cy="106.2" r="1.65" fill="#111"/>
<circle cx="484" cy="101" r="1.65" fill="#111"/>
<circle cx="478.5" cy="105.5" r="1.65" fill="#111"/>
<circle cx="470.5" cy="110.5" r="1.65" fill="#111"/>
<circle cx="466" cy="114.5" r="1.65" fill="#111"/>
<circle cx="455.6" cy="121.5" r="1.65" fill="#111"/>
<circle cx="457.5" cy="125" r="1.65" fill="#111"/>
<circle cx="482" cy="96.5" r="1.65" fill="#111"/>
<circle cx="520.1" cy="42.7" r="2.4" fill="#111"/>
<circle cx="537.9" cy="38.8" r="2.4" fill="#111"/>
<circle cx="495.1" cy="54.2" r="2.4" fill="#111"/>
<circle cx="453.6" cy="86.4" r="2.3" fill="#e0302c" stroke="#5a1210" stroke-width="0.5"/>
<text x="445.7" y="30.5" font-size="10.15" stroke="#2a2a2a" stroke-width="0.18" font-style="italic" textLength="66.3" lengthAdjust="spacingAndGlyphs" fill="#2a2a2a">LOC107521776</text>
<text x="452.5" y="42.5" font-size="10.15" stroke="#2a2a2a" stroke-width="0.18" textLength="51.4" lengthAdjust="spacingAndGlyphs" fill="#2a2a2a">(<tspan font-style="italic">IFNL3</tspan>-like)</text>
<line x1="465" y1="45.5" x2="453.9" y2="83.6" stroke="#555" stroke-width="0.6"/>
<text x="530.1" y="21.5" font-size="9.29" stroke="#2a2a2a" stroke-width="0.18" font-style="italic" textLength="59.5" lengthAdjust="spacingAndGlyphs" fill="#2a2a2a">LOC107501624</text>
<text x="530.1" y="32" font-size="9.29" stroke="#2a2a2a" stroke-width="0.18" font-style="italic" textLength="22.9" lengthAdjust="spacingAndGlyphs" fill="#2a2a2a">(IFIT1)</text>
<text x="566.6" y="38.8" font-size="9.29" stroke="#2a2a2a" stroke-width="0.18" font-style="italic" textLength="57.5" lengthAdjust="spacingAndGlyphs" fill="#2a2a2a">LOC107512537</text>
<text x="566.6" y="48.9" font-size="9.29" stroke="#2a2a2a" stroke-width="0.18" font-style="italic" textLength="33.1" lengthAdjust="spacingAndGlyphs" fill="#2a2a2a">(DDX60)</text>
<text x="500.3" y="50.9" font-size="9.29" stroke="#2a2a2a" stroke-width="0.18" font-style="italic" textLength="18.4" lengthAdjust="spacingAndGlyphs" fill="#2a2a2a">IFIT3</text>
<text x="521.4" y="57.6" font-size="9.29" stroke="#2a2a2a" stroke-width="0.18" font-style="italic" textLength="14.6" lengthAdjust="spacingAndGlyphs" fill="#2a2a2a">IFI6</text>
<text x="529.7" y="67.6" font-size="9.29" stroke="#2a2a2a" stroke-width="0.18" font-style="italic" textLength="24" lengthAdjust="spacingAndGlyphs" fill="#2a2a2a">USP18</text>
<text x="523" y="76.8" font-size="9.29" stroke="#2a2a2a" stroke-width="0.18" font-style="italic" textLength="18.8" lengthAdjust="spacingAndGlyphs" fill="#2a2a2a">BST2</text>
<text x="546" y="80.2" font-size="9.29" stroke="#2a2a2a" stroke-width="0.18" font-style="italic" textLength="16.5" lengthAdjust="spacingAndGlyphs" fill="#2a2a2a">IRF7</text>
<text x="532.2" y="89.9" font-size="9.29" stroke="#2a2a2a" stroke-width="0.18" font-style="italic" textLength="21.5" lengthAdjust="spacingAndGlyphs" fill="#2a2a2a">ISG15</text>
<text x="506.6" y="90.7" font-size="9.29" stroke="#2a2a2a" stroke-width="0.18" font-style="italic" textLength="16" lengthAdjust="spacingAndGlyphs" fill="#2a2a2a">MX1</text>
<text x="494.2" y="102.7" font-size="9.29" stroke="#2a2a2a" stroke-width="0.18" font-style="italic" textLength="21.1" lengthAdjust="spacingAndGlyphs" fill="#2a2a2a">OAS3</text>
<text x="478.4" y="121" font-size="9.29" stroke="#2a2a2a" stroke-width="0.18" font-style="italic" textLength="18.2" lengthAdjust="spacingAndGlyphs" fill="#2a2a2a">LY6E</text>
<line x1="520.1" y1="42.7" x2="528.7" y2="33.6" stroke="#444" stroke-width="0.6"/>
<line x1="541.2" y1="38.9" x2="564.9" y2="42.3" stroke="#444" stroke-width="0.6"/>
<line x1="496.1" y1="53.8" x2="500.3" y2="50.9" stroke="#444" stroke-width="0.6"/>
<line x1="517.2" y1="62.4" x2="521.4" y2="58" stroke="#444" stroke-width="0.6"/>
<line x1="519.1" y1="65.3" x2="529.7" y2="65.7" stroke="#444" stroke-width="0.6"/>
<line x1="507.6" y1="72" x2="522.6" y2="73" stroke="#444" stroke-width="0.6"/>
<line x1="507.6" y1="75.3" x2="545" y2="77" stroke="#444" stroke-width="0.6"/>
<line x1="501.8" y1="79.1" x2="531.7" y2="85.5" stroke="#444" stroke-width="0.6"/>
<line x1="497" y1="82.6" x2="505.6" y2="87.5" stroke="#444" stroke-width="0.6"/>
<line x1="493.7" y1="88.1" x2="500.3" y2="95.5" stroke="#444" stroke-width="0.6"/>
<line x1="473.9" y1="106.2" x2="482.2" y2="112.2" stroke="#444" stroke-width="0.6"/>
<text x="9.6" y="196.3" font-size="14.5" stroke="#111" stroke-width="0.6" font-weight="bold" fill="#111">b</text>
<polyline points="49.7,214.4 49.7,325.04 180.3,325.04" fill="none" stroke="#8c8c8c" stroke-width="1"/>
<line x1="45.3" y1="214.4" x2="49.7" y2="214.4" stroke="#8c8c8c" stroke-width="1"/>
<text x="40.6" y="217.8" font-size="9.2" stroke="#2a2a2a" stroke-width="0.18" text-anchor="end" fill="#2a2a2a">10<tspan font-size="6.2" dy="-4">0</tspan></text>
<line x1="45.3" y1="228.23" x2="49.7" y2="228.23" stroke="#8c8c8c" stroke-width="1"/>
<line x1="45.3" y1="242.06" x2="49.7" y2="242.06" stroke="#8c8c8c" stroke-width="1"/>
<text x="40.6" y="245.46" font-size="9.2" stroke="#2a2a2a" stroke-width="0.18" text-anchor="end" fill="#2a2a2a">10<tspan font-size="6.2" dy="-4">-2</tspan></text>
<line x1="45.3" y1="255.89" x2="49.7" y2="255.89" stroke="#8c8c8c" stroke-width="1"/>
<line x1="45.3" y1="269.72" x2="49.7" y2="269.72" stroke="#8c8c8c" stroke-width="1"/>
<text x="40.6" y="273.12" font-size="9.2" stroke="#2a2a2a" stroke-width="0.18" text-anchor="end" fill="#2a2a2a">10<tspan font-size="6.2" dy="-4">-4</tspan></text>
<line x1="45.3" y1="283.55" x2="49.7" y2="283.55" stroke="#8c8c8c" stroke-width="1"/>
<line x1="45.3" y1="297.38" x2="49.7" y2="297.38" stroke="#8c8c8c" stroke-width="1"/>
<text x="40.6" y="300.78" font-size="9.2" stroke="#2a2a2a" stroke-width="0.18" text-anchor="end" fill="#2a2a2a">10<tspan font-size="6.2" dy="-4">-6</tspan></text>
<line x1="45.3" y1="311.21" x2="49.7" y2="311.21" stroke="#8c8c8c" stroke-width="1"/>
<line x1="45.3" y1="325.04" x2="49.7" y2="325.04" stroke="#8c8c8c" stroke-width="1"/>
<text x="40.6" y="328.44" font-size="9.2" stroke="#2a2a2a" stroke-width="0.18" text-anchor="end" fill="#2a2a2a">10<tspan font-size="6.2" dy="-4">-8</tspan></text>
<line x1="69.9" y1="325.04" x2="69.9" y2="329.24" stroke="#8c8c8c" stroke-width="1"/>
<line x1="114.6" y1="325.04" x2="114.6" y2="329.24" stroke="#8c8c8c" stroke-width="1"/>
<line x1="159.4" y1="325.04" x2="159.4" y2="329.24" stroke="#8c8c8c" stroke-width="1"/>
<rect x="53.6" y="304" width="7.6" height="21.04" fill="#ffffff" stroke="#707070" stroke-width="0.9"/>
<rect x="66.1" y="297" width="7.6" height="28.04" fill="#e1e2e4" stroke="#707070" stroke-width="0.9"/>
<rect x="78.3" y="295.3" width="7.6" height="29.74" fill="#b5b6b8" stroke="#707070" stroke-width="0.9"/>
<rect x="98.3" y="296.3" width="7.6" height="28.74" fill="#ffffff" stroke="#707070" stroke-width="0.9"/>
<rect x="110.8" y="261.2" width="7.6" height="63.84" fill="#e1e2e4" stroke="#707070" stroke-width="0.9"/>
<rect x="123" y="254.6" width="7.6" height="70.44" fill="#b5b6b8" stroke="#707070" stroke-width="0.9"/>
<rect x="143.1" y="289.7" width="7.6" height="35.34" fill="#ffffff" stroke="#707070" stroke-width="0.9"/>
<rect x="155.6" y="261" width="7.6" height="64.04" fill="#e1e2e4" stroke="#707070" stroke-width="0.9"/>
<rect x="167.8" y="253.9" width="7.6" height="71.14" fill="#b5b6b8" stroke="#707070" stroke-width="0.9"/>
<circle cx="56" cy="300.3" r="2.1" fill="#151515"/>
<circle cx="59.7" cy="304.6" r="2.1" fill="#151515"/>
<circle cx="57.6" cy="312.4" r="2.1" fill="#151515"/>
<circle cx="67.9" cy="294.7" r="2.1" fill="#151515"/>
<circle cx="71.4" cy="294.9" r="2.1" fill="#151515"/>
<circle cx="70" cy="306.9" r="2.1" fill="#151515"/>
<circle cx="80.1" cy="290.9" r="2.1" fill="#151515"/>
<circle cx="80.1" cy="295.6" r="2.1" fill="#151515"/>
<circle cx="84" cy="295.3" r="2.1" fill="#151515"/>
<circle cx="100.5" cy="298.8" r="2.1" fill="#151515"/>
<circle cx="102.4" cy="294.1" r="2.1" fill="#151515"/>
<circle cx="104.6" cy="294.6" r="2.1" fill="#151515"/>
<circle cx="112.7" cy="260.4" r="2.1" fill="#151515"/>
<circle cx="114.9" cy="259.7" r="2.1" fill="#151515"/>
<circle cx="117" cy="260.4" r="2.1" fill="#151515"/>
<circle cx="125.1" cy="255.3" r="2.1" fill="#151515"/>
<circle cx="127.3" cy="253.9" r="2.1" fill="#151515"/>
<circle cx="128.7" cy="254.6" r="2.1" fill="#151515"/>
<circle cx="145.6" cy="287.3" r="2.1" fill="#151515"/>
<circle cx="149.2" cy="288.7" r="2.1" fill="#151515"/>
<circle cx="147.7" cy="297" r="2.1" fill="#151515"/>
<circle cx="157.5" cy="261.5" r="2.1" fill="#151515"/>
<circle cx="159.9" cy="260.4" r="2.1" fill="#151515"/>
<circle cx="161.9" cy="261.2" r="2.1" fill="#151515"/>
<circle cx="169.7" cy="253.9" r="2.1" fill="#151515"/>
<circle cx="171.9" cy="251.7" r="2.1" fill="#151515"/>
<circle cx="174.1" cy="253.9" r="2.1" fill="#151515"/>
<polyline points="68.7,286.6 68.7,231.2 158.6,231.2 158.6,241" fill="none" stroke="#9a9a9a" stroke-width="1"/>
<line x1="57.9" y1="286.6" x2="82.5" y2="286.6" stroke="#9a9a9a" stroke-width="1"/>
<line x1="116.2" y1="231.2" x2="116.2" y2="241" stroke="#9a9a9a" stroke-width="1"/>
<line x1="99" y1="241" x2="130.6" y2="241" stroke="#a5a5a5" stroke-width="1.3"/>
<line x1="141.5" y1="241" x2="173.3" y2="241" stroke="#a5a5a5" stroke-width="1.3"/>
<polygon points="107.03,252.75 107.58,254.09 109.02,254.2 107.92,255.14 108.26,256.55 107.03,255.79 105.79,256.55 106.13,255.14 105.03,254.2 106.47,254.09" fill="#505050"/>
<polygon points="111.28,252.75 111.83,254.09 113.27,254.2 112.17,255.14 112.51,256.55 111.28,255.79 110.04,256.55 110.38,255.14 109.28,254.2 110.72,254.09" fill="#505050"/>
<polygon points="115.53,252.75 116.08,254.09 117.52,254.2 116.42,255.14 116.76,256.55 115.53,255.79 114.29,256.55 114.63,255.14 113.53,254.2 114.97,254.09" fill="#505050"/>
<polygon points="119.78,252.75 120.33,254.09 121.77,254.2 120.67,255.14 121.01,256.55 119.78,255.79 118.54,256.55 118.88,255.14 117.78,254.2 119.22,254.09" fill="#505050"/>
<polygon points="122.45,246.15 123.01,247.49 124.45,247.6 123.35,248.54 123.68,249.95 122.45,249.19 121.22,249.95 121.55,248.54 120.45,247.6 121.89,247.49" fill="#505050"/>
<polygon points="126.7,246.15 127.26,247.49 128.7,247.6 127.6,248.54 127.93,249.95 126.7,249.19 125.47,249.95 125.8,248.54 124.7,247.6 126.14,247.49" fill="#505050"/>
<polygon points="130.95,246.15 131.51,247.49 132.95,247.6 131.85,248.54 132.18,249.95 130.95,249.19 129.72,249.95 130.05,248.54 128.95,247.6 130.39,247.49" fill="#505050"/>
<polygon points="155.25,252.75 155.81,254.09 157.25,254.2 156.15,255.14 156.48,256.55 155.25,255.79 154.02,256.55 154.35,255.14 153.25,254.2 154.69,254.09" fill="#505050"/>
<polygon points="159.5,252.75 160.06,254.09 161.5,254.2 160.4,255.14 160.73,256.55 159.5,255.79 158.27,256.55 158.6,255.14 157.5,254.2 158.94,254.09" fill="#505050"/>
<polygon points="163.75,252.75 164.31,254.09 165.75,254.2 164.65,255.14 164.98,256.55 163.75,255.79 162.52,256.55 162.85,255.14 161.75,254.2 163.19,254.09" fill="#505050"/>
<polygon points="169.78,245.45 170.33,246.79 171.77,246.9 170.67,247.84 171.01,249.25 169.78,248.5 168.54,249.25 168.88,247.84 167.78,246.9 169.22,246.79" fill="#505050"/>
<polygon points="174.03,245.45 174.58,246.79 176.02,246.9 174.92,247.84 175.26,249.25 174.03,248.5 172.79,249.25 173.13,247.84 172.03,246.9 173.47,246.79" fill="#505050"/>
<text x="97" y="286.8" font-size="9.07" stroke="#2a2a2a" stroke-width="0.18" textLength="11.3" lengthAdjust="spacingAndGlyphs" fill="#2a2a2a">NS</text>
<text x="143.8" y="279.4" font-size="9.07" stroke="#2a2a2a" stroke-width="0.18" textLength="10.5" lengthAdjust="spacingAndGlyphs" fill="#2a2a2a">NS</text>
<text x="69.9" y="341.3" font-size="10.04" stroke="#2a2a2a" stroke-width="0.18" text-anchor="middle" textLength="21.6" lengthAdjust="spacingAndGlyphs" fill="#2a2a2a">Mock</text>
<text x="97" y="340.8" font-size="10.04" stroke="#2a2a2a" stroke-width="0.18" textLength="36.1" lengthAdjust="spacingAndGlyphs" fill="#2a2a2a">IFNλ1-4 h</text>
<text x="141.9" y="340.8" font-size="10.04" stroke="#2a2a2a" stroke-width="0.18" textLength="36.1" lengthAdjust="spacingAndGlyphs" fill="#2a2a2a">IFNλ1-8 h</text>
<text x="91.7" y="200.8" font-size="10.15" stroke="#2a2a2a" stroke-width="0.18" textLength="46.6" lengthAdjust="spacingAndGlyphs" fill="#2a2a2a"><tspan font-style="italic">IFNL3</tspan>-like</text>
<text x="80.5" y="214" font-size="10.15" stroke="#2a2a2a" stroke-width="0.18" font-style="italic" textLength="68.3" lengthAdjust="spacingAndGlyphs" fill="#2a2a2a">LOC107521776</text>
<text transform="translate(18.9,269.7) rotate(-90)" font-size="11.12" stroke="#2a2a2a" stroke-width="0.18" text-anchor="middle" textLength="103" lengthAdjust="spacingAndGlyphs" fill="#2a2a2a"><tspan font-style="italic">IFNL3</tspan> mRNA (relative)</text>
<polyline points="236,214.5 236,325.35 366.5,325.35" fill="none" stroke="#8c8c8c" stroke-width="1"/>
<line x1="231.6" y1="214.5" x2="236" y2="214.5" stroke="#8c8c8c" stroke-width="1"/>
<text x="227.3" y="217.9" font-size="9.2" stroke="#2a2a2a" stroke-width="0.18" text-anchor="end" fill="#2a2a2a">10<tspan font-size="6.2" dy="-4">0</tspan></text>
<line x1="231.6" y1="251.45" x2="236" y2="251.45" stroke="#8c8c8c" stroke-width="1"/>
<text x="227.3" y="254.85" font-size="9.2" stroke="#2a2a2a" stroke-width="0.18" text-anchor="end" fill="#2a2a2a">10<tspan font-size="6.2" dy="-4">-1</tspan></text>
<line x1="231.6" y1="288.4" x2="236" y2="288.4" stroke="#8c8c8c" stroke-width="1"/>
<text x="227.3" y="291.8" font-size="9.2" stroke="#2a2a2a" stroke-width="0.18" text-anchor="end" fill="#2a2a2a">10<tspan font-size="6.2" dy="-4">-2</tspan></text>
<line x1="231.6" y1="325.35" x2="236" y2="325.35" stroke="#8c8c8c" stroke-width="1"/>
<text x="227.3" y="328.75" font-size="9.2" stroke="#2a2a2a" stroke-width="0.18" text-anchor="end" fill="#2a2a2a">10<tspan font-size="6.2" dy="-4">-3</tspan></text>
<line x1="256" y1="325.35" x2="256" y2="329.55" stroke="#8c8c8c" stroke-width="1"/>
<line x1="300.9" y1="325.35" x2="300.9" y2="329.55" stroke="#8c8c8c" stroke-width="1"/>
<line x1="345.9" y1="325.35" x2="345.9" y2="329.55" stroke="#8c8c8c" stroke-width="1"/>
<rect x="240.05" y="293.9" width="7.5" height="31.45" fill="#ffffff" stroke="#707070" stroke-width="0.9"/>
<rect x="252.25" y="302.5" width="7.5" height="22.85" fill="#e1e2e4" stroke="#707070" stroke-width="0.9"/>
<rect x="264.45" y="298.8" width="7.5" height="26.55" fill="#b5b6b8" stroke="#707070" stroke-width="0.9"/>
<rect x="284.95" y="239.2" width="7.5" height="86.15" fill="#ffffff" stroke="#707070" stroke-width="0.9"/>
<rect x="297.15" y="245.8" width="7.5" height="79.55" fill="#e1e2e4" stroke="#707070" stroke-width="0.9"/>
<rect x="309.35" y="231.6" width="7.5" height="93.75" fill="#b5b6b8" stroke="#707070" stroke-width="0.9"/>
<rect x="329.95" y="240.1" width="7.5" height="85.25" fill="#ffffff" stroke="#707070" stroke-width="0.9"/>
<rect x="342.15" y="245.8" width="7.5" height="79.55" fill="#e1e2e4" stroke="#707070" stroke-width="0.9"/>
<rect x="354.35" y="230" width="7.5" height="95.35" fill="#b5b6b8" stroke="#707070" stroke-width="0.9"/>
<circle cx="241.2" cy="293.3" r="2.1" fill="#151515"/>
<circle cx="243.3" cy="292.7" r="2.1" fill="#151515"/>
<circle cx="245.9" cy="293.7" r="2.1" fill="#151515"/>
<circle cx="254.1" cy="302.1" r="2.1" fill="#151515"/>
<circle cx="256.2" cy="300.8" r="2.1" fill="#151515"/>
<circle cx="258.6" cy="302.1" r="2.1" fill="#151515"/>
<circle cx="266.4" cy="294.7" r="2.1" fill="#151515"/>
<circle cx="269.9" cy="298.4" r="2.1" fill="#151515"/>
<circle cx="267.8" cy="304.1" r="2.1" fill="#151515"/>
<circle cx="286.9" cy="242" r="2.1" fill="#151515"/>
<circle cx="289" cy="238.2" r="2.1" fill="#151515"/>
<circle cx="291.2" cy="239.5" r="2.1" fill="#151515"/>
<circle cx="299.2" cy="246.4" r="2.1" fill="#151515"/>
<circle cx="300.7" cy="244.5" r="2.1" fill="#151515"/>
<circle cx="303" cy="245.8" r="2.1" fill="#151515"/>
<circle cx="311.2" cy="233.8" r="2.1" fill="#151515"/>
<circle cx="313.1" cy="231.6" r="2.1" fill="#151515"/>
<circle cx="315.5" cy="231.6" r="2.1" fill="#151515"/>
<circle cx="331.7" cy="237.6" r="2.1" fill="#151515"/>
<circle cx="332" cy="243" r="2.1" fill="#151515"/>
<circle cx="335.8" cy="239.5" r="2.1" fill="#151515"/>
<circle cx="343.4" cy="248.3" r="2.1" fill="#151515"/>
<circle cx="345.9" cy="245.8" r="2.1" fill="#151515"/>
<circle cx="348.2" cy="245.8" r="2.1" fill="#151515"/>
<circle cx="356.1" cy="230.6" r="2.1" fill="#151515"/>
<circle cx="358.6" cy="230.6" r="2.1" fill="#151515"/>
<circle cx="360.5" cy="230.6" r="2.1" fill="#151515"/>
<polyline points="256.1,272.9 256.1,218.3 346.3,218.3 346.3,222.5" fill="none" stroke="#8a8a8a" stroke-width="1"/>
<line x1="243.4" y1="272.9" x2="268.1" y2="272.9" stroke="#8a8a8a" stroke-width="1"/>
<line x1="300.7" y1="218.3" x2="300.7" y2="222.5" stroke="#8a8a8a" stroke-width="1"/>
<line x1="284" y1="222.5" x2="315.9" y2="222.5" stroke="#a5a5a5" stroke-width="1.1"/>
<line x1="329.2" y1="222.5" x2="361.4" y2="222.5" stroke="#a5a5a5" stroke-width="1.1"/>
<polygon points="284.15,231.65 284.71,232.99 286.15,233.1 285.05,234.04 285.38,235.45 284.15,234.69 282.92,235.45 283.25,234.04 282.15,233.1 283.59,232.99" fill="#505050"/>
<polygon points="288.4,231.65 288.96,232.99 290.4,233.1 289.3,234.04 289.63,235.45 288.4,234.69 287.17,235.45 287.5,234.04 286.4,233.1 287.84,232.99" fill="#505050"/>
<polygon points="292.65,231.65 293.21,232.99 294.65,233.1 293.55,234.04 293.88,235.45 292.65,234.69 291.42,235.45 291.75,234.04 290.65,233.1 292.09,232.99" fill="#505050"/>
<polygon points="292.23,227.25 292.78,228.59 294.22,228.7 293.12,229.64 293.46,231.05 292.23,230.29 290.99,231.05 291.33,229.64 290.23,228.7 291.67,228.59" fill="#505050"/>
<polygon points="296.48,227.25 297.03,228.59 298.47,228.7 297.37,229.64 297.71,231.05 296.48,230.29 295.24,231.05 295.58,229.64 294.48,228.7 295.92,228.59" fill="#505050"/>
<polygon points="300.73,227.25 301.28,228.59 302.72,228.7 301.62,229.64 301.96,231.05 300.73,230.29 299.49,231.05 299.83,229.64 298.73,228.7 300.17,228.59" fill="#505050"/>
<polygon points="304.98,227.25 305.53,228.59 306.97,228.7 305.87,229.64 306.21,231.05 304.98,230.29 303.74,231.05 304.08,229.64 302.98,228.7 304.42,228.59" fill="#505050"/>
<polygon points="306.23,222.65 306.78,223.99 308.22,224.1 307.12,225.04 307.46,226.45 306.23,225.69 304.99,226.45 305.33,225.04 304.23,224.1 305.67,223.99" fill="#505050"/>
<polygon points="310.48,222.65 311.03,223.99 312.47,224.1 311.37,225.04 311.71,226.45 310.48,225.69 309.24,226.45 309.58,225.04 308.48,224.1 309.92,223.99" fill="#505050"/>
<polygon points="314.73,222.65 315.28,223.99 316.72,224.1 315.62,225.04 315.96,226.45 314.73,225.69 313.49,226.45 313.83,225.04 312.73,224.1 314.17,223.99" fill="#505050"/>
<polygon points="318.98,222.65 319.53,223.99 320.97,224.1 319.87,225.04 320.21,226.45 318.98,225.69 317.74,226.45 318.08,225.04 316.98,224.1 318.42,223.99" fill="#505050"/>
<polygon points="329.45,231.65 330.01,232.99 331.45,233.1 330.35,234.04 330.68,235.45 329.45,234.69 328.22,235.45 328.55,234.04 327.45,233.1 328.89,232.99" fill="#505050"/>
<polygon points="333.7,231.65 334.26,232.99 335.7,233.1 334.6,234.04 334.93,235.45 333.7,234.69 332.47,235.45 332.8,234.04 331.7,233.1 333.14,232.99" fill="#505050"/>
<polygon points="337.95,231.65 338.51,232.99 339.95,233.1 338.85,234.04 339.18,235.45 337.95,234.69 336.72,235.45 337.05,234.04 335.95,233.1 337.39,232.99" fill="#505050"/>
<polygon points="339.43,227.45 339.98,228.79 341.42,228.9 340.32,229.84 340.66,231.25 339.43,230.5 338.19,231.25 338.53,229.84 337.43,228.9 338.87,228.79" fill="#505050"/>
<polygon points="343.68,227.45 344.23,228.79 345.67,228.9 344.57,229.84 344.91,231.25 343.68,230.5 342.44,231.25 342.78,229.84 341.68,228.9 343.12,228.79" fill="#505050"/>
<polygon points="347.93,227.45 348.48,228.79 349.92,228.9 348.82,229.84 349.16,231.25 347.93,230.5 346.69,231.25 347.03,229.84 345.93,228.9 347.37,228.79" fill="#505050"/>
<polygon points="352.18,227.45 352.73,228.79 354.17,228.9 353.07,229.84 353.41,231.25 352.18,230.5 350.94,231.25 351.28,229.84 350.18,228.9 351.62,228.79" fill="#505050"/>
<polygon points="352.32,223.65 352.88,224.99 354.32,225.1 353.22,226.04 353.56,227.45 352.32,226.69 351.09,227.45 351.43,226.04 350.33,225.1 351.77,224.99" fill="#505050"/>
<polygon points="356.57,223.65 357.13,224.99 358.57,225.1 357.47,226.04 357.81,227.45 356.57,226.69 355.34,227.45 355.68,226.04 354.58,225.1 356.02,224.99" fill="#505050"/>
<polygon points="360.82,223.65 361.38,224.99 362.82,225.1 361.72,226.04 362.06,227.45 360.82,226.69 359.59,227.45 359.93,226.04 358.83,225.1 360.27,224.99" fill="#505050"/>
<polygon points="365.07,223.65 365.63,224.99 367.07,225.1 365.97,226.04 366.31,227.45 365.07,226.69 363.84,227.45 364.18,226.04 363.08,225.1 364.52,224.99" fill="#505050"/>
<text x="291.6" y="213.5" font-size="10.15" stroke="#2a2a2a" stroke-width="0.18" font-style="italic" textLength="19" lengthAdjust="spacingAndGlyphs" fill="#2a2a2a">MX1</text>
<text transform="translate(204.7,270.2) rotate(-90)" font-size="11.12" stroke="#2a2a2a" stroke-width="0.18" text-anchor="middle" textLength="95.6" lengthAdjust="spacingAndGlyphs" fill="#2a2a2a"><tspan font-style="italic">MX1</tspan> mRNA (relative)</text>
<text x="255.8" y="340.9" font-size="10.04" stroke="#2a2a2a" stroke-width="0.18" text-anchor="middle" textLength="22.1" lengthAdjust="spacingAndGlyphs" fill="#2a2a2a">Mock</text>
<text x="282.7" y="340.9" font-size="10.04" stroke="#2a2a2a" stroke-width="0.18" textLength="36.6" lengthAdjust="spacingAndGlyphs" fill="#2a2a2a">IFNλ1-4 h</text>
<text x="327.7" y="340.9" font-size="10.04" stroke="#2a2a2a" stroke-width="0.18" textLength="36.2" lengthAdjust="spacingAndGlyphs" fill="#2a2a2a">IFNλ1-8 h</text>
<rect x="369.1" y="209.1" width="9.6" height="9.4" fill="#ffffff" stroke="#6f6f6f" stroke-width="0.9"/>
<rect x="369.1" y="221.3" width="9.6" height="9.4" fill="#e1e2e4" stroke="#6f6f6f" stroke-width="0.9"/>
<rect x="369.1" y="233.3" width="9.6" height="9.4" fill="#b5b6b8" stroke="#6f6f6f" stroke-width="0.9"/>
<text x="383.9" y="216.4" font-size="8.6" stroke="#2a2a2a" stroke-width="0.18" fill="#2a2a2a">Human SI<tspan font-size="5.6" dy="-4">ORG</tspan></text>
<text x="383.9" y="228.6" font-size="8.6" stroke="#2a2a2a" stroke-width="0.18" fill="#2a2a2a">Bat SI<tspan font-size="5.6" dy="-4">ORG</tspan></text>
<text x="383.9" y="240.3" font-size="8.6" stroke="#2a2a2a" stroke-width="0.18" fill="#2a2a2a">Bat alv<tspan font-size="5.6" dy="-4">ORG</tspan></text>
<text x="446.8" y="195.6" font-size="14.5" stroke="#111" stroke-width="0.6" font-weight="bold" fill="#111">c</text>
<line x1="491.3" y1="203.2" x2="491.3" y2="330.6" stroke="#8c8c8c" stroke-width="1"/>
<line x1="485.3" y1="324.5" x2="612.4" y2="324.5" stroke="#8c8c8c" stroke-width="1"/>
<line x1="485.3" y1="324.5" x2="491.3" y2="324.5" stroke="#8c8c8c" stroke-width="1"/>
<text x="481.2" y="327.6" font-size="9.3" stroke="#2a2a2a" stroke-width="0.18" text-anchor="end" fill="#2a2a2a">0</text>
<line x1="491.3" y1="324.5" x2="491.3" y2="330.6" stroke="#8c8c8c" stroke-width="1"/>
<text x="491.3" y="341.8" font-size="9.3" stroke="#2a2a2a" stroke-width="0.18" text-anchor="middle" fill="#2a2a2a">0</text>
<line x1="485.3" y1="300.26" x2="491.3" y2="300.26" stroke="#8c8c8c" stroke-width="1"/>
<text x="481.2" y="303.36" font-size="9.3" stroke="#2a2a2a" stroke-width="0.18" text-anchor="end" fill="#2a2a2a">2</text>
<line x1="515.54" y1="324.5" x2="515.54" y2="330.6" stroke="#8c8c8c" stroke-width="1"/>
<text x="515.54" y="341.8" font-size="9.3" stroke="#2a2a2a" stroke-width="0.18" text-anchor="middle" fill="#2a2a2a">2</text>
<line x1="485.3" y1="276.02" x2="491.3" y2="276.02" stroke="#8c8c8c" stroke-width="1"/>
<text x="481.2" y="279.12" font-size="9.3" stroke="#2a2a2a" stroke-width="0.18" text-anchor="end" fill="#2a2a2a">4</text>
<line x1="539.78" y1="324.5" x2="539.78" y2="330.6" stroke="#8c8c8c" stroke-width="1"/>
<text x="539.78" y="341.8" font-size="9.3" stroke="#2a2a2a" stroke-width="0.18" text-anchor="middle" fill="#2a2a2a">4</text>
<line x1="485.3" y1="251.78" x2="491.3" y2="251.78" stroke="#8c8c8c" stroke-width="1"/>
<text x="481.2" y="254.88" font-size="9.3" stroke="#2a2a2a" stroke-width="0.18" text-anchor="end" fill="#2a2a2a">6</text>
<line x1="564.02" y1="324.5" x2="564.02" y2="330.6" stroke="#8c8c8c" stroke-width="1"/>
<text x="564.02" y="341.8" font-size="9.3" stroke="#2a2a2a" stroke-width="0.18" text-anchor="middle" fill="#2a2a2a">6</text>
<line x1="485.3" y1="227.54" x2="491.3" y2="227.54" stroke="#8c8c8c" stroke-width="1"/>
<text x="481.2" y="230.64" font-size="9.3" stroke="#2a2a2a" stroke-width="0.18" text-anchor="end" fill="#2a2a2a">8</text>
<line x1="588.26" y1="324.5" x2="588.26" y2="330.6" stroke="#8c8c8c" stroke-width="1"/>
<text x="588.26" y="341.8" font-size="9.3" stroke="#2a2a2a" stroke-width="0.18" text-anchor="middle" fill="#2a2a2a">8</text>
<line x1="485.3" y1="203.3" x2="491.3" y2="203.3" stroke="#8c8c8c" stroke-width="1"/>
<text x="481.2" y="206.4" font-size="9.3" stroke="#2a2a2a" stroke-width="0.18" text-anchor="end" fill="#2a2a2a">10</text>
<line x1="612.5" y1="324.5" x2="612.5" y2="330.6" stroke="#8c8c8c" stroke-width="1"/>
<text x="612.5" y="341.8" font-size="9.3" stroke="#2a2a2a" stroke-width="0.18" text-anchor="middle" fill="#2a2a2a">10</text>
<text transform="translate(454,264) rotate(-90)" font-size="11.12" stroke="#2a2a2a" stroke-width="0.18" text-anchor="middle" textLength="83.5" lengthAdjust="spacingAndGlyphs" fill="#2a2a2a">log<tspan font-size="6.6" dy="2.6">2</tspan><tspan dy="-2.6">(fold change)</tspan></text>
<text transform="translate(466.4,263.8) rotate(-90)" font-size="11.12" stroke="#2a2a2a" stroke-width="0.18" text-anchor="middle" textLength="115.3" lengthAdjust="spacingAndGlyphs" fill="#2a2a2a">(IFNλ3-like versus mock)</text>
<text x="551.6" y="358.2" font-size="11.12" stroke="#2a2a2a" stroke-width="0.18" text-anchor="middle" textLength="82.8" lengthAdjust="spacingAndGlyphs" fill="#2a2a2a">log<tspan font-size="6.6" dy="2.6">2</tspan><tspan dy="-2.6">(fold change)</tspan></text>
<text x="551.6" y="370.2" font-size="11.12" stroke="#2a2a2a" stroke-width="0.18" text-anchor="middle" textLength="141.3" lengthAdjust="spacingAndGlyphs" fill="#2a2a2a">(universal IFNα2 versus mock)</text>
<polygon points="498.5,309.5 500.5,302.5 503.5,298.5 507.5,297.5 509.5,299.5 509,305 506,311 502.5,316 499.5,316.5" fill="#111" stroke="#111" stroke-width="0" stroke-linejoin="round"/>
<circle cx="499.36" cy="308.72" r="1.42" fill="#111"/>
<circle cx="501.33" cy="306.12" r="1.46" fill="#111"/>
<circle cx="501.29" cy="303.76" r="1.38" fill="#111"/>
<circle cx="502.25" cy="303.85" r="1.34" fill="#111"/>
<circle cx="503.24" cy="301.45" r="1.46" fill="#111"/>
<circle cx="504.34" cy="300.08" r="1.24" fill="#111"/>
<circle cx="509.02" cy="300.08" r="1.49" fill="#111"/>
<circle cx="507.73" cy="302.73" r="1.33" fill="#111"/>
<circle cx="507.3" cy="304.56" r="1.51" fill="#111"/>
<circle cx="506.67" cy="305.95" r="1.47" fill="#111"/>
<circle cx="507.54" cy="307.16" r="1.36" fill="#111"/>
<circle cx="505.62" cy="308.76" r="1.37" fill="#111"/>
<circle cx="505.02" cy="309.34" r="1.48" fill="#111"/>
<circle cx="503.86" cy="313.43" r="1.29" fill="#111"/>
<circle cx="499.76" cy="316.1" r="1.45" fill="#111"/>
<circle cx="499.78" cy="313.78" r="1.44" fill="#111"/>
<circle cx="499.83" cy="312.79" r="1.47" fill="#111"/>
<circle cx="499.03" cy="311.11" r="1.49" fill="#111"/>
<circle cx="536.4" cy="245.1" r="1.4" fill="#111"/>
<circle cx="542" cy="249.5" r="1.4" fill="#111"/>
<circle cx="547.1" cy="251.9" r="1.4" fill="#111"/>
<circle cx="532.3" cy="253" r="1.4" fill="#111"/>
<circle cx="559.1" cy="253" r="1.4" fill="#111"/>
<circle cx="565.5" cy="260.6" r="1.4" fill="#111"/>
<circle cx="558.5" cy="261.2" r="1.4" fill="#111"/>
<circle cx="542.2" cy="260.6" r="1.4" fill="#111"/>
<circle cx="541" cy="263.5" r="1.4" fill="#111"/>
<circle cx="531.7" cy="267.6" r="1.4" fill="#111"/>
<circle cx="531.7" cy="268.8" r="1.4" fill="#111"/>
<circle cx="538.7" cy="267.6" r="1.4" fill="#111"/>
<circle cx="543.9" cy="266.8" r="1.4" fill="#111"/>
<circle cx="543.4" cy="271.7" r="1.4" fill="#111"/>
<circle cx="542.2" cy="279" r="1.4" fill="#111"/>
<circle cx="535.2" cy="277.6" r="1.4" fill="#111"/>
<circle cx="532.3" cy="276.4" r="1.4" fill="#111"/>
<circle cx="531.7" cy="279.3" r="1.4" fill="#111"/>
<circle cx="522.3" cy="274" r="1.4" fill="#111"/>
<circle cx="521.8" cy="279.9" r="1.4" fill="#111"/>
<circle cx="527" cy="283.4" r="1.4" fill="#111"/>
<circle cx="529.9" cy="284" r="1.4" fill="#111"/>
<circle cx="573.7" cy="232.2" r="1.4" fill="#111"/>
<circle cx="523.2" cy="274" r="1.4" fill="#111"/>
<circle cx="525.2" cy="275" r="1.4" fill="#111"/>
<circle cx="522.2" cy="280.1" r="1.4" fill="#111"/>
<circle cx="523.2" cy="277.5" r="1.4" fill="#111"/>
<circle cx="532.3" cy="276.5" r="1.4" fill="#111"/>
<circle cx="535.8" cy="277.5" r="1.4" fill="#111"/>
<circle cx="531.2" cy="279.6" r="1.4" fill="#111"/>
<circle cx="526.7" cy="283.1" r="1.4" fill="#111"/>
<circle cx="529.7" cy="284.1" r="1.4" fill="#111"/>
<circle cx="527.7" cy="288.1" r="1.4" fill="#111"/>
<circle cx="517.2" cy="284.1" r="1.4" fill="#111"/>
<circle cx="516.7" cy="286.6" r="1.4" fill="#111"/>
<circle cx="511.1" cy="291.1" r="1.4" fill="#111"/>
<circle cx="515.2" cy="290.1" r="1.4" fill="#111"/>
<circle cx="518.2" cy="293.1" r="1.4" fill="#111"/>
<circle cx="520.2" cy="295.2" r="1.4" fill="#111"/>
<circle cx="522.2" cy="291.1" r="1.4" fill="#111"/>
<circle cx="523.2" cy="296.7" r="1.4" fill="#111"/>
<circle cx="521.2" cy="297.2" r="1.4" fill="#111"/>
<circle cx="516.7" cy="295.2" r="1.4" fill="#111"/>
<circle cx="515.2" cy="299.2" r="1.4" fill="#111"/>
<circle cx="515.7" cy="299.7" r="1.4" fill="#111"/>
<circle cx="503.1" cy="299.2" r="1.4" fill="#111"/>
<circle cx="504.1" cy="296.7" r="1.4" fill="#111"/>
<circle cx="508.6" cy="297.7" r="1.4" fill="#111"/>
<circle cx="498" cy="308.2" r="1.4" fill="#111"/>
<circle cx="500.1" cy="303.2" r="1.4" fill="#111"/>
<circle cx="498.6" cy="314.3" r="1.4" fill="#111"/>
<circle cx="502.1" cy="316.3" r="1.4" fill="#111"/>
<circle cx="513.5" cy="296" r="1.4" fill="#111"/>
<circle cx="512.5" cy="299.5" r="1.4" fill="#111"/>
<circle cx="519" cy="298.5" r="1.4" fill="#111"/>
<circle cx="563.8" cy="232.2" r="2.25" fill="#e0302c" stroke="#4a100e" stroke-width="0.55"/>
<circle cx="584" cy="230.3" r="2.25" fill="#e0302c" stroke="#4a100e" stroke-width="0.55"/>
<circle cx="549.8" cy="260" r="2.25" fill="#e0302c" stroke="#4a100e" stroke-width="0.55"/>
<circle cx="561.1" cy="256.5" r="2.25" fill="#e0302c" stroke="#4a100e" stroke-width="0.55"/>
<circle cx="548" cy="265.9" r="2.25" fill="#e0302c" stroke="#4a100e" stroke-width="0.55"/>
<circle cx="548.6" cy="270.5" r="2.25" fill="#e0302c" stroke="#4a100e" stroke-width="0.55"/>
<circle cx="537.8" cy="272.3" r="2.25" fill="#e0302c" stroke="#4a100e" stroke-width="0.55"/>
<circle cx="527.9" cy="274.3" r="2.25" fill="#e0302c" stroke="#4a100e" stroke-width="0.55"/>
<circle cx="526.1" cy="278.1" r="2.25" fill="#e0302c" stroke="#4a100e" stroke-width="0.55"/>
<circle cx="516.4" cy="290.1" r="2.25" fill="#e0302c" stroke="#4a100e" stroke-width="0.55"/>
<circle cx="510.9" cy="294.1" r="2.25" fill="#e0302c" stroke="#4a100e" stroke-width="0.55"/>
<circle cx="524.7" cy="294.6" r="2.25" fill="#e0302c" stroke="#4a100e" stroke-width="0.55"/>
<circle cx="511.6" cy="303.7" r="2.25" fill="#e0302c" stroke="#4a100e" stroke-width="0.55"/>
<circle cx="510.1" cy="308.2" r="2.25" fill="#e0302c" stroke="#4a100e" stroke-width="0.55"/>
<text x="545.1" y="212.4" font-size="9.29" stroke="#2a2a2a" stroke-width="0.18" font-style="italic" textLength="59.4" lengthAdjust="spacingAndGlyphs" fill="#2a2a2a">LOC107501624</text>
<text x="545.1" y="221.9" font-size="9.29" stroke="#2a2a2a" stroke-width="0.18" font-style="italic" textLength="22.2" lengthAdjust="spacingAndGlyphs" fill="#2a2a2a">(IFIT1)</text>
<text x="592.7" y="232.1" font-size="9.29" stroke="#2a2a2a" stroke-width="0.18" font-style="italic" textLength="57.6" lengthAdjust="spacingAndGlyphs" fill="#2a2a2a">LOC107512537</text>
<text x="592.7" y="240.9" font-size="9.29" stroke="#2a2a2a" stroke-width="0.18" font-style="italic" textLength="32.5" lengthAdjust="spacingAndGlyphs" fill="#2a2a2a">(DDX60)</text>
<text x="543.5" y="246.3" font-size="9.29" stroke="#2a2a2a" stroke-width="0.18" font-style="italic" textLength="24.5" lengthAdjust="spacingAndGlyphs" fill="#2a2a2a">USP18</text>
<text x="568.4" y="251.8" font-size="9.29" stroke="#2a2a2a" stroke-width="0.18" font-style="italic" textLength="14.3" lengthAdjust="spacingAndGlyphs" fill="#2a2a2a">IFI6</text>
<text x="569.6" y="260.6" font-size="9.29" stroke="#2a2a2a" stroke-width="0.18" font-style="italic" textLength="19" lengthAdjust="spacingAndGlyphs" fill="#2a2a2a">BST2</text>
<text x="561.3" y="270.1" font-size="9.29" stroke="#2a2a2a" stroke-width="0.18" font-style="italic" textLength="16.6" lengthAdjust="spacingAndGlyphs" fill="#2a2a2a">IRF7</text>
<text x="553" y="276.5" font-size="9.29" stroke="#2a2a2a" stroke-width="0.18" font-style="italic" textLength="15" lengthAdjust="spacingAndGlyphs" fill="#2a2a2a">MX1</text>
<text x="504.7" y="267.3" font-size="9.29" stroke="#2a2a2a" stroke-width="0.18" font-style="italic" textLength="22.8" lengthAdjust="spacingAndGlyphs" fill="#2a2a2a">OAS3</text>
<text x="544.2" y="285.1" font-size="9.29" stroke="#2a2a2a" stroke-width="0.18" font-style="italic" textLength="17.1" lengthAdjust="spacingAndGlyphs" fill="#2a2a2a">MX2</text>
<text x="494.8" y="279.6" font-size="9.29" stroke="#2a2a2a" stroke-width="0.18" font-style="italic" textLength="24.2" lengthAdjust="spacingAndGlyphs" fill="#2a2a2a">DTX3L</text>
<text x="530.9" y="293.2" font-size="9.29" stroke="#2a2a2a" stroke-width="0.18" font-style="italic" textLength="24.5" lengthAdjust="spacingAndGlyphs" fill="#2a2a2a">ZNFX1</text>
<text x="532.3" y="301.7" font-size="9.29" stroke="#2a2a2a" stroke-width="0.18" font-style="italic" textLength="24.2" lengthAdjust="spacingAndGlyphs" fill="#2a2a2a">ISG20</text>
<text x="515.7" y="308.1" font-size="9.29" stroke="#2a2a2a" stroke-width="0.18" font-style="italic" textLength="19" lengthAdjust="spacingAndGlyphs" fill="#2a2a2a">IFI35</text>
<text x="511.4" y="318.8" font-size="9.29" stroke="#2a2a2a" stroke-width="0.18" font-style="italic" textLength="17.8" lengthAdjust="spacingAndGlyphs" fill="#2a2a2a">LY6E</text>
<line x1="564.1" y1="229.5" x2="564.5" y2="223.5" stroke="#444" stroke-width="0.6"/>
<line x1="550.2" y1="257.5" x2="551.5" y2="248.5" stroke="#444" stroke-width="0.6"/>
<line x1="563.5" y1="254.5" x2="569.5" y2="249.5" stroke="#444" stroke-width="0.6"/>
<line x1="551" y1="265" x2="569" y2="257.5" stroke="#444" stroke-width="0.6"/>
<line x1="551" y1="267.5" x2="562" y2="265.5" stroke="#444" stroke-width="0.6"/>
<line x1="551.5" y1="271" x2="555.5" y2="272.5" stroke="#444" stroke-width="0.6"/>
<line x1="540" y1="273" x2="553" y2="275.5" stroke="#444" stroke-width="0.6"/>
<line x1="526" y1="271.5" x2="520.5" y2="268.5" stroke="#444" stroke-width="0.6"/>
<line x1="529" y1="279.5" x2="545" y2="281.5" stroke="#444" stroke-width="0.6"/>
<line x1="511" y1="291.5" x2="509" y2="281.5" stroke="#444" stroke-width="0.6"/>
<line x1="518.5" y1="291" x2="531" y2="289.5" stroke="#444" stroke-width="0.6"/>
<line x1="527.5" y1="295.5" x2="533" y2="297.5" stroke="#444" stroke-width="0.6"/>
<line x1="513.5" y1="304" x2="517" y2="304.5" stroke="#444" stroke-width="0.6"/>
<line x1="512.5" y1="309.5" x2="513.5" y2="313" stroke="#444" stroke-width="0.6"/>
<text x="9" y="376.9" font-size="14.5" stroke="#111" stroke-width="0.6" font-weight="bold" fill="#111">d</text>
<text x="66.5" y="378.4" font-size="9.72" stroke="#2a2a2a" stroke-width="0.18" textLength="47" lengthAdjust="spacingAndGlyphs" fill="#2a2a2a"><tspan font-style="italic">IFNL3</tspan>-like</text>
<text x="55.4" y="391.2" font-size="10.15" stroke="#2a2a2a" stroke-width="0.18" font-style="italic" textLength="68.8" lengthAdjust="spacingAndGlyphs" fill="#2a2a2a">LOC107521776</text>
<polyline points="48.4,395.1 48.4,497.52 130.9,497.52" fill="none" stroke="#8c8c8c" stroke-width="1"/>
<line x1="44.6" y1="395.1" x2="48.4" y2="395.1" stroke="#8c8c8c" stroke-width="1"/>
<text x="40.2" y="398.5" font-size="9.2" stroke="#2a2a2a" stroke-width="0.18" text-anchor="end" fill="#2a2a2a">10<tspan font-size="6.2" dy="-4">0</tspan></text>
<line x1="44.6" y1="412.17" x2="48.4" y2="412.17" stroke="#8c8c8c" stroke-width="1"/>
<line x1="44.6" y1="429.24" x2="48.4" y2="429.24" stroke="#8c8c8c" stroke-width="1"/>
<text x="40.2" y="432.64" font-size="9.2" stroke="#2a2a2a" stroke-width="0.18" text-anchor="end" fill="#2a2a2a">10<tspan font-size="6.2" dy="-4">-2</tspan></text>
<line x1="44.6" y1="446.31" x2="48.4" y2="446.31" stroke="#8c8c8c" stroke-width="1"/>
<line x1="44.6" y1="463.38" x2="48.4" y2="463.38" stroke="#8c8c8c" stroke-width="1"/>
<text x="40.2" y="466.78" font-size="9.2" stroke="#2a2a2a" stroke-width="0.18" text-anchor="end" fill="#2a2a2a">10<tspan font-size="6.2" dy="-4">-4</tspan></text>
<line x1="44.6" y1="480.45" x2="48.4" y2="480.45" stroke="#8c8c8c" stroke-width="1"/>
<line x1="44.6" y1="497.52" x2="48.4" y2="497.52" stroke="#8c8c8c" stroke-width="1"/>
<text x="40.2" y="500.92" font-size="9.2" stroke="#2a2a2a" stroke-width="0.18" text-anchor="end" fill="#2a2a2a">10<tspan font-size="6.2" dy="-4">-6</tspan></text>
<line x1="68.4" y1="497.52" x2="68.4" y2="500.92" stroke="#8c8c8c" stroke-width="1"/>
<line x1="111.1" y1="497.52" x2="111.1" y2="500.92" stroke="#8c8c8c" stroke-width="1"/>
<rect x="54.3" y="490.8" width="10.9" height="6.72" fill="#c4c5c7" stroke="#707070" stroke-width="0.9"/>
<rect x="71.1" y="488" width="10.5" height="9.52" fill="#e03531" stroke="#555" stroke-width="0.9"/>
<rect x="97.8" y="491.2" width="10.5" height="6.32" fill="#c4c5c7" stroke="#707070" stroke-width="0.9"/>
<rect x="114.2" y="455" width="10.5" height="42.52" fill="#e03531" stroke="#555" stroke-width="0.9"/>
<circle cx="55.8" cy="494.4" r="1.9" fill="#151515"/>
<circle cx="60.4" cy="488" r="1.9" fill="#151515"/>
<circle cx="63.1" cy="492.7" r="1.9" fill="#151515"/>
<circle cx="72.6" cy="486" r="1.9" fill="#151515"/>
<circle cx="76.4" cy="494" r="1.9" fill="#151515"/>
<circle cx="79.9" cy="488" r="1.9" fill="#151515"/>
<circle cx="99.9" cy="489.7" r="1.9" fill="#151515"/>
<circle cx="103.7" cy="496.5" r="1.9" fill="#151515"/>
<circle cx="106.9" cy="490.2" r="1.9" fill="#151515"/>
<circle cx="116.3" cy="452.9" r="1.9" fill="#151515"/>
<circle cx="116.7" cy="457.6" r="1.9" fill="#151515"/>
<circle cx="122.6" cy="454.8" r="1.9" fill="#151515"/>
<text transform="translate(18.3,446.31) rotate(-90)" font-size="11.12" stroke="#2a2a2a" stroke-width="0.18" text-anchor="middle" textLength="103" lengthAdjust="spacingAndGlyphs" fill="#2a2a2a"><tspan font-style="italic">IFNL3</tspan> mRNA (relative)</text>
<text x="68.4" y="475" font-size="8.4" stroke="#2a2a2a" stroke-width="0.18" text-anchor="middle" fill="#2a2a2a">NS</text>
<line x1="60.4" y1="477.6" x2="76.8" y2="477.6" stroke="#a0a0a0" stroke-width="1"/>
<polygon points="105.9,436.8 106.57,438.42 108.33,438.56 106.99,439.7 107.4,441.41 105.9,440.5 104.4,441.41 104.81,439.7 103.47,438.56 105.23,438.42" fill="#505050"/>
<polygon points="111.5,436.8 112.17,438.42 113.93,438.56 112.59,439.7 113,441.41 111.5,440.5 110,441.41 110.41,439.7 109.07,438.56 110.83,438.42" fill="#505050"/>
<polygon points="117.1,436.8 117.77,438.42 119.53,438.56 118.19,439.7 118.6,441.41 117.1,440.5 115.6,441.41 116.01,439.7 114.67,438.56 116.43,438.42" fill="#505050"/>
<line x1="104.5" y1="445.4" x2="119.3" y2="445.4" stroke="#a0a0a0" stroke-width="1"/>
<text transform="translate(73.7,507.7) rotate(-45)" font-size="9.61" stroke="#2a2a2a" stroke-width="0.18" text-anchor="end" textLength="28.9" lengthAdjust="spacingAndGlyphs" fill="#2a2a2a">sgIRF9</text>
<text transform="translate(117.2,510.1) rotate(-45)" font-size="9.61" stroke="#2a2a2a" stroke-width="0.18" text-anchor="end" textLength="53.5" lengthAdjust="spacingAndGlyphs" fill="#2a2a2a">sgScrambled</text>
<text x="242.6" y="390.3" font-size="10.15" stroke="#2a2a2a" stroke-width="0.18" text-anchor="middle" font-style="italic" textLength="19" lengthAdjust="spacingAndGlyphs" fill="#2a2a2a">MX1</text>
<polyline points="202.6,394.5 202.6,496 281.6,496" fill="none" stroke="#8c8c8c" stroke-width="1"/>
<line x1="198.8" y1="394.5" x2="202.6" y2="394.5" stroke="#8c8c8c" stroke-width="1"/>
<text x="194.5" y="397.9" font-size="9.2" stroke="#2a2a2a" stroke-width="0.18" text-anchor="end" fill="#2a2a2a">10<tspan font-size="6.2" dy="-4">0</tspan></text>
<line x1="198.8" y1="445.25" x2="202.6" y2="445.25" stroke="#8c8c8c" stroke-width="1"/>
<text x="194.5" y="448.65" font-size="9.2" stroke="#2a2a2a" stroke-width="0.18" text-anchor="end" fill="#2a2a2a">10<tspan font-size="6.2" dy="-4">-1</tspan></text>
<line x1="198.8" y1="496" x2="202.6" y2="496" stroke="#8c8c8c" stroke-width="1"/>
<text x="194.5" y="499.4" font-size="9.2" stroke="#2a2a2a" stroke-width="0.18" text-anchor="end" fill="#2a2a2a">10<tspan font-size="6.2" dy="-4">-2</tspan></text>
<line x1="221.5" y1="496" x2="221.5" y2="499.4" stroke="#8c8c8c" stroke-width="1"/>
<line x1="263.6" y1="496" x2="263.6" y2="499.4" stroke="#8c8c8c" stroke-width="1"/>
<rect x="207.9" y="489.1" width="10.9" height="6.9" fill="#c4c5c7" stroke="#707070" stroke-width="0.9"/>
<rect x="224.3" y="482.2" width="9.8" height="13.8" fill="#e03531" stroke="#555" stroke-width="0.9"/>
<rect x="249.9" y="489.5" width="11" height="6.5" fill="#c4c5c7" stroke="#707070" stroke-width="0.9"/>
<rect x="266.7" y="434" width="9.5" height="62" fill="#e03531" stroke="#555" stroke-width="0.9"/>
<circle cx="210" cy="486.6" r="1.9" fill="#151515"/>
<circle cx="213.1" cy="493.3" r="1.9" fill="#151515"/>
<circle cx="216.3" cy="488" r="1.9" fill="#151515"/>
<circle cx="225.7" cy="482.2" r="1.9" fill="#151515"/>
<circle cx="228.9" cy="481.3" r="1.9" fill="#151515"/>
<circle cx="232" cy="482.8" r="1.9" fill="#151515"/>
<circle cx="252" cy="487.6" r="1.9" fill="#151515"/>
<circle cx="253.1" cy="492.7" r="1.9" fill="#151515"/>
<circle cx="258.7" cy="489.1" r="1.9" fill="#151515"/>
<circle cx="268.5" cy="437.8" r="1.9" fill="#151515"/>
<circle cx="271.6" cy="429.2" r="1.9" fill="#151515"/>
<circle cx="274.7" cy="435.5" r="1.9" fill="#151515"/>
<text transform="translate(172.6,445.25) rotate(-90)" font-size="11.12" stroke="#2a2a2a" stroke-width="0.18" text-anchor="middle" textLength="96" lengthAdjust="spacingAndGlyphs" fill="#2a2a2a"><tspan font-style="italic">MX1</tspan> mRNA (relative)</text>
<polygon points="220,462 220.67,463.62 222.43,463.76 221.09,464.9 221.5,466.61 220,465.7 218.5,466.61 218.91,464.9 217.57,463.76 219.33,463.62" fill="#505050"/>
<line x1="213.1" y1="470.8" x2="228.5" y2="470.8" stroke="#a0a0a0" stroke-width="1"/>
<polygon points="259,414 259.67,415.62 261.43,415.76 260.09,416.9 260.5,418.61 259,417.7 257.5,418.61 257.91,416.9 256.57,415.76 258.33,415.62" fill="#505050"/>
<polygon points="264.6,414 265.27,415.62 267.03,415.76 265.69,416.9 266.1,418.61 264.6,417.7 263.1,418.61 263.51,416.9 262.17,415.76 263.93,415.62" fill="#505050"/>
<polygon points="270.2,414 270.87,415.62 272.63,415.76 271.29,416.9 271.7,418.61 270.2,417.7 268.7,418.61 269.11,416.9 267.77,415.76 269.53,415.62" fill="#505050"/>
<line x1="257.3" y1="421.4" x2="272" y2="421.4" stroke="#a0a0a0" stroke-width="1"/>
<text transform="translate(226.5,509.5) rotate(-45)" font-size="9.61" stroke="#2a2a2a" stroke-width="0.18" text-anchor="end" textLength="28.9" lengthAdjust="spacingAndGlyphs" fill="#2a2a2a">sgIRF9</text>
<text transform="translate(270.5,510.2) rotate(-45)" font-size="9.61" stroke="#2a2a2a" stroke-width="0.18" text-anchor="end" textLength="53.5" lengthAdjust="spacingAndGlyphs" fill="#2a2a2a">sgScrambled</text>
<rect x="290.4" y="387.8" width="9.7" height="9.8" fill="#a9aaac" stroke="#707070" stroke-width="0.9"/>
<rect x="290.4" y="404.3" width="9.7" height="9.4" fill="#e0222a" stroke="#555" stroke-width="0.9"/>
<text x="304.5" y="395.9" font-size="8.6" stroke="#2a2a2a" stroke-width="0.18" fill="#2a2a2a">Mock</text>
<text x="304.5" y="412" font-size="9.29" stroke="#2a2a2a" stroke-width="0.18" textLength="38.6" lengthAdjust="spacingAndGlyphs" fill="#2a2a2a">IFNλ1-like</text>
<text x="353.3" y="376.5" font-size="14.5" stroke="#111" stroke-width="0.6" font-weight="bold" fill="#111">e</text>
<text x="439.4" y="380.7" font-size="9.29" stroke="#2a2a2a" stroke-width="0.18" text-anchor="middle" textLength="42" lengthAdjust="spacingAndGlyphs" fill="#2a2a2a"><tspan font-style="italic">IFNL3</tspan>-like</text>
<text x="410.1" y="391.4" font-size="9.29" stroke="#2a2a2a" stroke-width="0.18" font-style="italic" textLength="58.3" lengthAdjust="spacingAndGlyphs" fill="#2a2a2a">LOC107521776</text>
<polyline points="393.5,393.8 393.5,495.32 473,495.32" fill="none" stroke="#8c8c8c" stroke-width="1"/>
<line x1="389.7" y1="393.8" x2="393.5" y2="393.8" stroke="#8c8c8c" stroke-width="1"/>
<text x="385.3" y="397.2" font-size="9.2" stroke="#2a2a2a" stroke-width="0.18" text-anchor="end" fill="#2a2a2a">10<tspan font-size="6.2" dy="-4">0</tspan></text>
<line x1="389.7" y1="410.72" x2="393.5" y2="410.72" stroke="#8c8c8c" stroke-width="1"/>
<line x1="389.7" y1="427.64" x2="393.5" y2="427.64" stroke="#8c8c8c" stroke-width="1"/>
<text x="385.3" y="431.04" font-size="9.2" stroke="#2a2a2a" stroke-width="0.18" text-anchor="end" fill="#2a2a2a">10<tspan font-size="6.2" dy="-4">-2</tspan></text>
<line x1="389.7" y1="444.56" x2="393.5" y2="444.56" stroke="#8c8c8c" stroke-width="1"/>
<line x1="389.7" y1="461.48" x2="393.5" y2="461.48" stroke="#8c8c8c" stroke-width="1"/>
<text x="385.3" y="464.88" font-size="9.2" stroke="#2a2a2a" stroke-width="0.18" text-anchor="end" fill="#2a2a2a">10<tspan font-size="6.2" dy="-4">-4</tspan></text>
<line x1="389.7" y1="478.4" x2="393.5" y2="478.4" stroke="#8c8c8c" stroke-width="1"/>
<line x1="389.7" y1="495.32" x2="393.5" y2="495.32" stroke="#8c8c8c" stroke-width="1"/>
<text x="385.3" y="498.72" font-size="9.2" stroke="#2a2a2a" stroke-width="0.18" text-anchor="end" fill="#2a2a2a">10<tspan font-size="6.2" dy="-4">-6</tspan></text>
<line x1="412.5" y1="495.32" x2="412.5" y2="498.72" stroke="#8c8c8c" stroke-width="1"/>
<line x1="454.8" y1="495.32" x2="454.8" y2="498.72" stroke="#8c8c8c" stroke-width="1"/>
<rect x="399.4" y="481.7" width="10.2" height="13.62" fill="#c4c5c7" stroke="#707070" stroke-width="0.9"/>
<rect x="415.6" y="438.9" width="10" height="56.42" fill="#e03531" stroke="#555" stroke-width="0.9"/>
<rect x="442.2" y="480" width="10.2" height="15.32" fill="#c4c5c7" stroke="#707070" stroke-width="0.9"/>
<rect x="458.4" y="429" width="10" height="66.32" fill="#e03531" stroke="#555" stroke-width="0.9"/>
<circle cx="401.3" cy="486.5" r="1.9" fill="#151515"/>
<circle cx="404.2" cy="478.2" r="1.9" fill="#151515"/>
<circle cx="407.7" cy="483.6" r="1.9" fill="#151515"/>
<circle cx="417.3" cy="438.9" r="1.9" fill="#151515"/>
<circle cx="420.8" cy="438.5" r="1.9" fill="#151515"/>
<circle cx="424.4" cy="438.9" r="1.9" fill="#151515"/>
<circle cx="444.1" cy="480.5" r="1.9" fill="#151515"/>
<circle cx="447.4" cy="478.2" r="1.9" fill="#151515"/>
<circle cx="450.8" cy="480.5" r="1.9" fill="#151515"/>
<circle cx="459.6" cy="429.4" r="1.9" fill="#151515"/>
<circle cx="462.4" cy="426.3" r="1.9" fill="#151515"/>
<circle cx="466.5" cy="429.4" r="1.9" fill="#151515"/>
<text transform="translate(362.4,444.56) rotate(-90)" font-size="11.12" stroke="#2a2a2a" stroke-width="0.18" text-anchor="middle" textLength="105.5" lengthAdjust="spacingAndGlyphs" fill="#2a2a2a"><tspan font-style="italic">IFNL3</tspan> mRNA (relative)</text>
<polygon points="406.9,421.4 407.57,423.02 409.33,423.16 407.99,424.3 408.4,426.01 406.9,425.1 405.4,426.01 405.81,424.3 404.47,423.16 406.23,423.02" fill="#505050"/>
<polygon points="412.5,421.4 413.17,423.02 414.93,423.16 413.59,424.3 414,426.01 412.5,425.1 411,426.01 411.41,424.3 410.07,423.16 411.83,423.02" fill="#505050"/>
<polygon points="418.1,421.4 418.77,423.02 420.53,423.16 419.19,424.3 419.6,426.01 418.1,425.1 416.6,426.01 417.01,424.3 415.67,423.16 417.43,423.02" fill="#505050"/>
<line x1="404.2" y1="429.2" x2="421.5" y2="429.2" stroke="#a0a0a0" stroke-width="1"/>
<polygon points="449.7,410.3 450.37,411.92 452.13,412.06 450.79,413.2 451.2,414.91 449.7,414 448.2,414.91 448.61,413.2 447.27,412.06 449.03,411.92" fill="#505050"/>
<polygon points="455.3,410.3 455.97,411.92 457.73,412.06 456.39,413.2 456.8,414.91 455.3,414 453.8,414.91 454.21,413.2 452.87,412.06 454.63,411.92" fill="#505050"/>
<polygon points="460.9,410.3 461.57,411.92 463.33,412.06 461.99,413.2 462.4,414.91 460.9,414 459.4,414.91 459.81,413.2 458.47,412.06 460.23,411.92" fill="#505050"/>
<line x1="449.8" y1="418.7" x2="463.6" y2="418.7" stroke="#a0a0a0" stroke-width="1"/>
<text transform="translate(418.5,510) rotate(-45)" font-size="9.61" stroke="#2a2a2a" stroke-width="0.18" text-anchor="end" textLength="28.9" lengthAdjust="spacingAndGlyphs" fill="#2a2a2a">sgIRF9</text>
<text transform="translate(462.5,509.7) rotate(-45)" font-size="9.61" stroke="#2a2a2a" stroke-width="0.18" text-anchor="end" textLength="53.5" lengthAdjust="spacingAndGlyphs" fill="#2a2a2a">sgScrambled</text>
<text x="575.4" y="390.5" font-size="10.15" stroke="#2a2a2a" stroke-width="0.18" font-style="italic" textLength="19.3" lengthAdjust="spacingAndGlyphs" fill="#2a2a2a">MX1</text>
<polyline points="544.8,393.4 544.8,495.2 624.8,495.2" fill="none" stroke="#8c8c8c" stroke-width="1"/>
<line x1="541" y1="393.4" x2="544.8" y2="393.4" stroke="#8c8c8c" stroke-width="1"/>
<text x="536.6" y="396.8" font-size="9.2" stroke="#2a2a2a" stroke-width="0.18" text-anchor="end" fill="#2a2a2a">10<tspan font-size="6.2" dy="-4">0</tspan></text>
<line x1="541" y1="444.3" x2="544.8" y2="444.3" stroke="#8c8c8c" stroke-width="1"/>
<text x="536.6" y="447.7" font-size="9.2" stroke="#2a2a2a" stroke-width="0.18" text-anchor="end" fill="#2a2a2a">10<tspan font-size="6.2" dy="-4">-1</tspan></text>
<line x1="541" y1="495.2" x2="544.8" y2="495.2" stroke="#8c8c8c" stroke-width="1"/>
<text x="536.6" y="498.6" font-size="9.2" stroke="#2a2a2a" stroke-width="0.18" text-anchor="end" fill="#2a2a2a">10<tspan font-size="6.2" dy="-4">-2</tspan></text>
<line x1="563.4" y1="495.2" x2="563.4" y2="498.6" stroke="#8c8c8c" stroke-width="1"/>
<line x1="606.2" y1="495.2" x2="606.2" y2="498.6" stroke="#8c8c8c" stroke-width="1"/>
<rect x="550.1" y="454.8" width="10.4" height="40.4" fill="#c4c5c7" stroke="#707070" stroke-width="0.9"/>
<rect x="566.5" y="456" width="10.1" height="39.2" fill="#e03531" stroke="#555" stroke-width="0.9"/>
<rect x="593" y="453.6" width="10.6" height="41.6" fill="#c4c5c7" stroke="#707070" stroke-width="0.9"/>
<rect x="609.1" y="403" width="10.4" height="92.2" fill="#e03531" stroke="#555" stroke-width="0.9"/>
<circle cx="551.3" cy="455.5" r="1.9" fill="#151515"/>
<circle cx="555.6" cy="454.3" r="1.9" fill="#151515"/>
<circle cx="559" cy="456.2" r="1.9" fill="#151515"/>
<circle cx="568.2" cy="459.6" r="1.9" fill="#151515"/>
<circle cx="571.3" cy="451.9" r="1.9" fill="#151515"/>
<circle cx="574.9" cy="456.2" r="1.9" fill="#151515"/>
<circle cx="594.7" cy="454.8" r="1.9" fill="#151515"/>
<circle cx="598.3" cy="453.1" r="1.9" fill="#151515"/>
<circle cx="601.9" cy="453.8" r="1.9" fill="#151515"/>
<circle cx="610.8" cy="400.8" r="1.9" fill="#151515"/>
<circle cx="611" cy="405.6" r="1.9" fill="#151515"/>
<circle cx="617.5" cy="402.5" r="1.9" fill="#151515"/>
<text transform="translate(515.6,444.3) rotate(-90)" font-size="11.12" stroke="#2a2a2a" stroke-width="0.18" text-anchor="middle" textLength="96.3" lengthAdjust="spacingAndGlyphs" fill="#2a2a2a"><tspan font-style="italic">MX1</tspan> mRNA (relative)</text>
<text x="564.6" y="436.2" font-size="8.4" stroke="#2a2a2a" stroke-width="0.18" text-anchor="middle" fill="#2a2a2a">NS</text>
<line x1="554.4" y1="439.4" x2="571.3" y2="439.4" stroke="#a0a0a0" stroke-width="1"/>
<polygon points="603.2,382 603.87,383.62 605.63,383.76 604.29,384.9 604.7,386.61 603.2,385.7 601.7,386.61 602.11,384.9 600.77,383.76 602.53,383.62" fill="#505050"/>
<polygon points="608.8,382 609.47,383.62 611.23,383.76 609.89,384.9 610.3,386.61 608.8,385.7 607.3,386.61 607.71,384.9 606.37,383.76 608.13,383.62" fill="#505050"/>
<line x1="599" y1="390" x2="613.4" y2="390" stroke="#a0a0a0" stroke-width="1"/>
<text transform="translate(569,511.5) rotate(-45)" font-size="9.61" stroke="#2a2a2a" stroke-width="0.18" text-anchor="end" textLength="28.9" lengthAdjust="spacingAndGlyphs" fill="#2a2a2a">sgIRF9</text>
<text transform="translate(613,511.2) rotate(-45)" font-size="9.61" stroke="#2a2a2a" stroke-width="0.18" text-anchor="end" textLength="53.5" lengthAdjust="spacingAndGlyphs" fill="#2a2a2a">sgScrambled</text>
<rect x="631.3" y="388" width="8.4" height="9" fill="#a9aaac" stroke="#707070" stroke-width="0.9"/>
<rect x="631.3" y="404.9" width="8.4" height="8.5" fill="#e0222a" stroke="#555" stroke-width="0.9"/>
<text x="645.2" y="395.3" font-size="8.6" stroke="#2a2a2a" stroke-width="0.18" fill="#2a2a2a">Mock</text>
<text x="645.2" y="411.4" font-size="9.29" stroke="#2a2a2a" stroke-width="0.18" textLength="38.3" lengthAdjust="spacingAndGlyphs" fill="#2a2a2a">VSV-eGFP</text>
</svg>
</body></html>
